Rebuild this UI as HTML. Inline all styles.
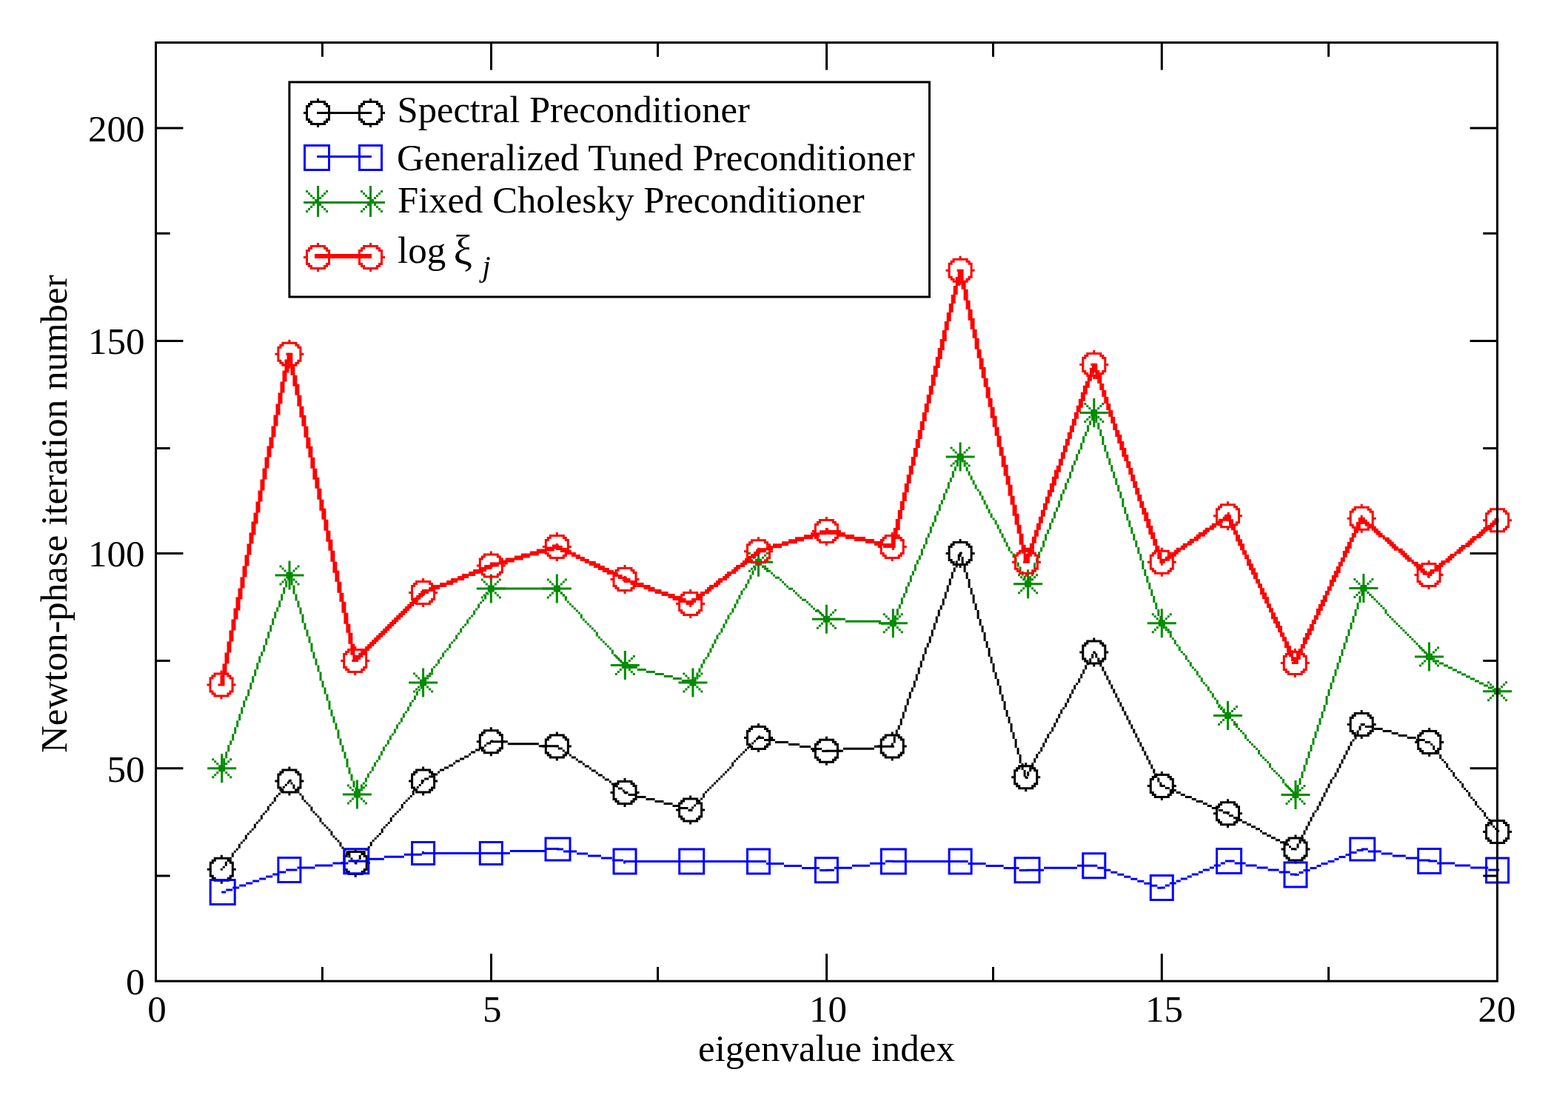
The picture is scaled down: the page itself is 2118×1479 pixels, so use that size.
<!DOCTYPE html><html><head><meta charset="utf-8"><title>Newton-phase iteration number vs eigenvalue index</title><style>html,body{margin:0;padding:0;background:#fff;}svg{display:block;}</style></head><body>
<svg width="2118" height="1479" viewBox="0 0 2118 1479">
<rect width="2118" height="1479" fill="#ffffff"/>
<g font-family="'Liberation Serif','Times New Roman',serif" font-size="51" fill="#000"><text x="212.0" y="1379.5" text-anchor="middle">0</text><text x="664.7" y="1379.5" text-anchor="middle">5</text><text x="1118.4" y="1379.5" text-anchor="middle">10</text><text x="1572.6" y="1379.5" text-anchor="middle">15</text><text x="2022.0" y="1379.5" text-anchor="middle">20</text><text x="195.5" y="1343.0" text-anchor="end">0</text><text x="195.5" y="1055.5" text-anchor="end">50</text><text x="195.5" y="765.4" text-anchor="end">100</text><text x="195.5" y="478.2" text-anchor="end">150</text><text x="195.5" y="190.9" text-anchor="end">200</text><text x="1116.5" y="1432.9" text-anchor="middle">eigenvalue index</text><text transform="translate(90.3,694.2) rotate(-90)" text-anchor="middle">Newton-phase iteration number</text></g>
<path fill="#000000" d="M369.8 1079.7h3v3h-3zM375.8 1070.7h3v3h-3zM384.8 1058.7h3v3h-3zM342.8 1115.7h3v3h-3zM351.8 1103.7h3v3h-3zM357.8 1094.7h3v3h-3zM363.8 1085.7h3v3h-3zM360.8 1091.7h3v3h-3zM366.8 1082.7h3v3h-3zM378.8 1064.7h3v3h-3zM381.8 1061.7h3v3h-3zM348.8 1106.7h3v3h-3zM339.8 1118.7h3v3h-3zM354.8 1097.7h3v3h-3zM372.8 1073.7h3v3h-3zM312.8 1154.7h3v3h-3zM369.8 1076.7h3v3h-3zM321.8 1142.7h3v3h-3zM327.8 1133.7h3v3h-3zM330.8 1130.7h3v3h-3zM336.8 1121.7h3v3h-3zM342.8 1112.7h3v3h-3zM345.8 1109.7h3v3h-3zM351.8 1100.7h3v3h-3zM360.8 1088.7h3v3h-3zM303.8 1166.7h3v3h-3zM315.8 1148.7h3v3h-3zM318.8 1145.7h3v3h-3zM333.8 1124.7h3v3h-3zM309.8 1157.7h3v3h-3zM324.8 1136.7h3v3h-3zM330.8 1127.7h3v3h-3zM306.8 1160.7h3v3h-3zM312.8 1151.7h3v3h-3zM321.8 1139.7h3v3h-3zM390.8 1052.7h3v3h-3zM297.8 1172.7h3v3h-3zM303.8 1163.7h3v3h-3zM300.8 1169.7h3v3h-3zM387.8 1055.7h3v3h-3zM378.8 1067.7h3v3h-3zM461.4 1143.6h3v3h-3zM437.4 1113.6h3v3h-3zM398.4 1065.6h3v3h-3zM458.4 1137.6h3v3h-3zM395.4 1059.6h3v3h-3zM440.4 1116.6h3v3h-3zM416.4 1086.6h3v3h-3zM422.4 1095.6h3v3h-3zM419.4 1089.6h3v3h-3zM446.4 1125.6h3v3h-3zM470.4 1155.6h3v3h-3zM407.4 1077.6h3v3h-3zM464.4 1146.6h3v3h-3zM467.4 1149.6h3v3h-3zM401.4 1068.6h3v3h-3zM443.4 1119.6h3v3h-3zM404.4 1071.6h3v3h-3zM449.4 1128.6h3v3h-3zM425.4 1098.6h3v3h-3zM431.4 1107.6h3v3h-3zM446.4 1122.6h3v3h-3zM473.4 1158.6h3v3h-3zM428.4 1101.6h3v3h-3zM470.4 1152.6h3v3h-3zM410.4 1080.6h3v3h-3zM407.4 1074.6h3v3h-3zM434.4 1110.6h3v3h-3zM452.4 1131.6h3v3h-3zM455.4 1134.6h3v3h-3zM389.4 1053.6h3v3h-3zM431.4 1104.6h3v3h-3zM476.4 1161.6h3v3h-3zM392.4 1056.6h3v3h-3zM458.4 1140.6h3v3h-3zM413.4 1083.6h3v3h-3zM419.4 1092.6h3v3h-3zM395.4 1062.6h3v3h-3zM479.4 1164.6h3v3h-3zM556.7 1071h3v3h-3zM508.7 1128h3v3h-3zM565.7 1059h3v3h-3zM511.7 1125h3v3h-3zM517.7 1116h3v3h-3zM526.7 1104h3v3h-3zM499.7 1140h3v3h-3zM562.7 1062h3v3h-3zM514.7 1119h3v3h-3zM496.7 1143h3v3h-3zM559.7 1065h3v3h-3zM568.7 1053h3v3h-3zM493.7 1146h3v3h-3zM550.7 1077h3v3h-3zM553.7 1074h3v3h-3zM556.7 1068h3v3h-3zM502.7 1134h3v3h-3zM505.7 1131h3v3h-3zM538.7 1092h3v3h-3zM544.7 1083h3v3h-3zM484.7 1158h3v3h-3zM541.7 1089h3v3h-3zM547.7 1080h3v3h-3zM499.7 1137h3v3h-3zM490.7 1149h3v3h-3zM535.7 1095h3v3h-3zM487.7 1152h3v3h-3zM526.7 1107h3v3h-3zM532.7 1098h3v3h-3zM478.7 1164h3v3h-3zM484.7 1155h3v3h-3zM523.7 1110h3v3h-3zM541.7 1086h3v3h-3zM481.7 1161h3v3h-3zM568.7 1056h3v3h-3zM514.7 1122h3v3h-3zM520.7 1113h3v3h-3zM529.7 1101h3v3h-3zM579.1 1047.6h6v3h-6zM600.1 1035.6h6v3h-6zM642.1 1011.6h6v3h-6zM606.1 1032.6h6v3h-6zM657.1 1002.6h6v3h-6zM633.1 1017.6h3v3h-3zM627.1 1020.6h6v3h-6zM648.1 1008.6h6v3h-6zM654.1 1005.6h3v3h-3zM621.1 1023.6h6v3h-6zM585.1 1044.6h6v3h-6zM594.1 1038.6h6v3h-6zM573.1 1050.6h6v3h-6zM615.1 1026.6h6v3h-6zM663.1 999.6h3v3h-3zM636.1 1014.6h6v3h-6zM570.1 1053.6h3v3h-3zM591.1 1041.6h3v3h-3zM612.1 1029.6h3v3h-3zM727.8 1006.3h27v3h-27zM661.8 1000.3h24v3h-24zM685.8 1003.3h42v3h-42zM762.8 1015.5h6v3h-6zM825.8 1057.5h6v3h-6zM807.8 1045.5h6v3h-6zM834.8 1063.5h6v3h-6zM789.8 1033.5h6v3h-6zM816.8 1051.5h6v3h-6zM798.8 1039.5h6v3h-6zM771.8 1021.5h6v3h-6zM831.8 1060.5h3v3h-3zM780.8 1027.5h6v3h-6zM753.8 1009.5h6v3h-6zM840.8 1066.5h3v3h-3zM822.8 1054.5h3v3h-3zM768.8 1018.5h3v3h-3zM795.8 1036.5h3v3h-3zM804.8 1042.5h3v3h-3zM813.8 1048.5h3v3h-3zM759.8 1012.5h3v3h-3zM786.8 1030.5h3v3h-3zM843.8 1069.5h3v3h-3zM750.8 1006.5h3v3h-3zM777.8 1024.5h3v3h-3zM896.5 1084h12v3h-12zM884.5 1081h12v3h-12zM848.5 1072h12v3h-12zM860.5 1075h12v3h-12zM917.5 1090h12v3h-12zM872.5 1078h12v3h-12zM842.5 1069h6v3h-6zM908.5 1087h9v3h-9zM929.5 1093h6v3h-6zM988.1 1029.4h3v3h-3zM958.1 1062.4h3v3h-3zM946.1 1077.4h3v3h-3zM955.1 1065.4h3v3h-3zM1009.1 1008.4h3v3h-3zM979.1 1041.4h3v3h-3zM976.1 1044.4h3v3h-3zM952.1 1068.4h3v3h-3zM949.1 1071.4h3v3h-3zM973.1 1047.4h3v3h-3zM940.1 1083.4h3v3h-3zM943.1 1080.4h3v3h-3zM1003.1 1014.4h3v3h-3zM1006.1 1011.4h3v3h-3zM970.1 1050.4h3v3h-3zM1024.1 993.4h3v3h-3zM937.1 1086.4h3v3h-3zM997.1 1020.4h3v3h-3zM1000.1 1017.4h3v3h-3zM1021.1 996.4h3v3h-3zM967.1 1053.4h3v3h-3zM988.1 1032.4h3v3h-3zM964.1 1056.4h3v3h-3zM1018.1 999.4h3v3h-3zM961.1 1059.4h3v3h-3zM931.1 1092.4h3v3h-3zM985.1 1035.4h3v3h-3zM991.1 1026.4h3v3h-3zM994.1 1023.4h3v3h-3zM934.1 1089.4h3v3h-3zM949.1 1074.4h3v3h-3zM1012.1 1005.4h3v3h-3zM1015.1 1002.4h3v3h-3zM982.1 1038.4h3v3h-3zM1080 1006.9h15v3h-15zM1032 997.9h15v3h-15zM1047 1000.9h18v3h-18zM1065 1003.9h15v3h-15zM1110 1012.9h9v3h-9zM1023 994.9h9v3h-9zM1095 1009.9h15v3h-15zM1114.9 1012.7h24v3h-24zM1138.9 1009.7h42v3h-42zM1180.9 1006.7h27v3h-27zM1260.7 841.5h3v3h-3zM1209.7 985.5h3v3h-3zM1221.7 958.5h3v3h-3zM1242.7 892.5h3v3h-3zM1284.7 778.5h3v3h-3zM1233.7 922.5h3v3h-3zM1260.7 847.5h3v3h-3zM1203.7 1003.5h3v3h-3zM1209.7 991.5h3v3h-3zM1245.7 886.5h3v3h-3zM1281.7 781.5h3v3h-3zM1257.7 850.5h3v3h-3zM1242.7 898.5h3v3h-3zM1227.7 937.5h3v3h-3zM1254.7 862.5h3v3h-3zM1290.7 757.5h3v3h-3zM1203.7 1006.5h3v3h-3zM1239.7 901.5h3v3h-3zM1281.7 787.5h3v3h-3zM1266.7 826.5h3v3h-3zM1215.7 970.5h3v3h-3zM1257.7 856.5h3v3h-3zM1293.7 751.5h3v3h-3zM1263.7 838.5h3v3h-3zM1290.7 763.5h3v3h-3zM1239.7 907.5h3v3h-3zM1275.7 802.5h3v3h-3zM1224.7 946.5h3v3h-3zM1215.7 976.5h3v3h-3zM1251.7 871.5h3v3h-3zM1287.7 766.5h3v3h-3zM1236.7 910.5h3v3h-3zM1221.7 955.5h3v3h-3zM1206.7 994.5h3v3h-3zM1284.7 775.5h3v3h-3zM1233.7 919.5h3v3h-3zM1236.7 916.5h3v3h-3zM1272.7 811.5h3v3h-3zM1245.7 883.5h3v3h-3zM1206.7 1000.5h3v3h-3zM1227.7 934.5h3v3h-3zM1233.7 925.5h3v3h-3zM1269.7 820.5h3v3h-3zM1230.7 931.5h3v3h-3zM1218.7 964.5h3v3h-3zM1245.7 889.5h3v3h-3zM1281.7 784.5h3v3h-3zM1278.7 790.5h3v3h-3zM1293.7 748.5h3v3h-3zM1227.7 940.5h3v3h-3zM1263.7 835.5h3v3h-3zM1212.7 979.5h3v3h-3zM1248.7 874.5h3v3h-3zM1239.7 904.5h3v3h-3zM1275.7 799.5h3v3h-3zM1224.7 943.5h3v3h-3zM1278.7 796.5h3v3h-3zM1293.7 754.5h3v3h-3zM1248.7 880.5h3v3h-3zM1275.7 805.5h3v3h-3zM1224.7 949.5h3v3h-3zM1260.7 844.5h3v3h-3zM1209.7 988.5h3v3h-3zM1287.7 769.5h3v3h-3zM1236.7 913.5h3v3h-3zM1272.7 808.5h3v3h-3zM1242.7 895.5h3v3h-3zM1254.7 859.5h3v3h-3zM1206.7 997.5h3v3h-3zM1296.7 745.5h3v3h-3zM1230.7 928.5h3v3h-3zM1266.7 823.5h3v3h-3zM1272.7 814.5h3v3h-3zM1218.7 961.5h3v3h-3zM1269.7 817.5h3v3h-3zM1257.7 853.5h3v3h-3zM1254.7 865.5h3v3h-3zM1290.7 760.5h3v3h-3zM1263.7 832.5h3v3h-3zM1266.7 829.5h3v3h-3zM1218.7 967.5h3v3h-3zM1215.7 973.5h3v3h-3zM1251.7 868.5h3v3h-3zM1278.7 793.5h3v3h-3zM1221.7 952.5h3v3h-3zM1212.7 982.5h3v3h-3zM1248.7 877.5h3v3h-3zM1284.7 772.5h3v3h-3zM1358.6 958.9h3v3h-3zM1325.6 847.9h3v3h-3zM1346.6 919.9h3v3h-3zM1352.6 937.9h3v3h-3zM1337.6 892.9h3v3h-3zM1367.6 988.9h3v3h-3zM1313.6 805.9h3v3h-3zM1358.6 964.9h3v3h-3zM1334.6 877.9h3v3h-3zM1361.6 967.9h3v3h-3zM1352.6 943.9h3v3h-3zM1382.6 1039.9h3v3h-3zM1340.6 904.9h3v3h-3zM1367.6 994.9h3v3h-3zM1373.6 1012.9h3v3h-3zM1328.6 856.9h3v3h-3zM1361.6 973.9h3v3h-3zM1295.6 745.9h3v3h-3zM1382.6 1045.9h3v3h-3zM1349.6 925.9h3v3h-3zM1376.6 1024.9h3v3h-3zM1370.6 997.9h3v3h-3zM1316.6 814.9h3v3h-3zM1328.6 862.9h3v3h-3zM1304.6 775.9h3v3h-3zM1364.6 976.9h3v3h-3zM1310.6 793.9h3v3h-3zM1331.6 865.9h3v3h-3zM1298.6 754.9h3v3h-3zM1343.6 913.9h3v3h-3zM1349.6 931.9h3v3h-3zM1319.6 826.9h3v3h-3zM1325.6 844.9h3v3h-3zM1370.6 1003.9h3v3h-3zM1346.6 916.9h3v3h-3zM1364.6 982.9h3v3h-3zM1310.6 799.9h3v3h-3zM1340.6 895.9h3v3h-3zM1331.6 871.9h3v3h-3zM1298.6 760.9h3v3h-3zM1319.6 832.9h3v3h-3zM1379.6 1033.9h3v3h-3zM1325.6 850.9h3v3h-3zM1355.6 946.9h3v3h-3zM1346.6 922.9h3v3h-3zM1313.6 811.9h3v3h-3zM1307.6 784.9h3v3h-3zM1334.6 883.9h3v3h-3zM1340.6 901.9h3v3h-3zM1301.6 763.9h3v3h-3zM1367.6 991.9h3v3h-3zM1322.6 835.9h3v3h-3zM1328.6 853.9h3v3h-3zM1355.6 952.9h3v3h-3zM1361.6 970.9h3v3h-3zM1307.6 790.9h3v3h-3zM1382.6 1042.9h3v3h-3zM1301.6 769.9h3v3h-3zM1376.6 1021.9h3v3h-3zM1322.6 841.9h3v3h-3zM1328.6 859.9h3v3h-3zM1304.6 772.9h3v3h-3zM1316.6 820.9h3v3h-3zM1298.6 751.9h3v3h-3zM1343.6 910.9h3v3h-3zM1349.6 928.9h3v3h-3zM1319.6 823.9h3v3h-3zM1376.6 1027.9h3v3h-3zM1370.6 1000.9h3v3h-3zM1337.6 889.9h3v3h-3zM1313.6 802.9h3v3h-3zM1358.6 961.9h3v3h-3zM1304.6 778.9h3v3h-3zM1364.6 979.9h3v3h-3zM1334.6 874.9h3v3h-3zM1352.6 940.9h3v3h-3zM1298.6 757.9h3v3h-3zM1349.6 934.9h3v3h-3zM1319.6 829.9h3v3h-3zM1379.6 1030.9h3v3h-3zM1370.6 1006.9h3v3h-3zM1385.6 1048.9h3v3h-3zM1313.6 808.9h3v3h-3zM1373.6 1009.9h3v3h-3zM1307.6 781.9h3v3h-3zM1334.6 880.9h3v3h-3zM1364.6 985.9h3v3h-3zM1340.6 898.9h3v3h-3zM1379.6 1036.9h3v3h-3zM1355.6 949.9h3v3h-3zM1373.6 1015.9h3v3h-3zM1307.6 787.9h3v3h-3zM1295.6 748.9h3v3h-3zM1301.6 766.9h3v3h-3zM1376.6 1018.9h3v3h-3zM1322.6 838.9h3v3h-3zM1355.6 955.9h3v3h-3zM1316.6 817.9h3v3h-3zM1343.6 907.9h3v3h-3zM1310.6 796.9h3v3h-3zM1331.6 868.9h3v3h-3zM1337.6 886.9h3v3h-3zM1393.2 1033.2h3v3h-3zM1408.2 1003.2h3v3h-3zM1477.2 880.2h3v3h-3zM1411.2 1000.2h3v3h-3zM1432.2 961.2h3v3h-3zM1414.2 994.2h3v3h-3zM1429.2 964.2h3v3h-3zM1450.2 925.2h3v3h-3zM1438.2 952.2h3v3h-3zM1447.2 931.2h3v3h-3zM1453.2 922.2h3v3h-3zM1474.2 883.2h3v3h-3zM1390.2 1036.2h3v3h-3zM1420.2 985.2h3v3h-3zM1435.2 955.2h3v3h-3zM1441.2 946.2h3v3h-3zM1459.2 913.2h3v3h-3zM1456.2 916.2h3v3h-3zM1462.2 907.2h3v3h-3zM1396.2 1027.2h3v3h-3zM1411.2 997.2h3v3h-3zM1393.2 1030.2h3v3h-3zM1399.2 1021.2h3v3h-3zM1414.2 991.2h3v3h-3zM1417.2 988.2h3v3h-3zM1432.2 958.2h3v3h-3zM1423.2 979.2h3v3h-3zM1438.2 949.2h3v3h-3zM1444.2 940.2h3v3h-3zM1465.2 901.2h3v3h-3zM1405.2 1012.2h3v3h-3zM1420.2 982.2h3v3h-3zM1402.2 1015.2h3v3h-3zM1426.2 973.2h3v3h-3zM1441.2 943.2h3v3h-3zM1462.2 904.2h3v3h-3zM1459.2 910.2h3v3h-3zM1471.2 892.2h3v3h-3zM1399.2 1018.2h3v3h-3zM1396.2 1024.2h3v3h-3zM1408.2 1006.2h3v3h-3zM1423.2 976.2h3v3h-3zM1429.2 967.2h3v3h-3zM1447.2 934.2h3v3h-3zM1444.2 937.2h3v3h-3zM1450.2 928.2h3v3h-3zM1465.2 898.2h3v3h-3zM1384.2 1048.2h3v3h-3zM1390.2 1039.2h3v3h-3zM1468.2 895.2h3v3h-3zM1474.2 886.2h3v3h-3zM1387.2 1042.2h3v3h-3zM1387.2 1045.2h3v3h-3zM1405.2 1009.2h3v3h-3zM1426.2 970.2h3v3h-3zM1456.2 919.2h3v3h-3zM1471.2 889.2h3v3h-3zM1494.3 915.4h3v3h-3zM1557.3 1038.4h3v3h-3zM1521.3 969.4h3v3h-3zM1560.3 1044.4h3v3h-3zM1524.3 975.4h3v3h-3zM1530.3 984.4h3v3h-3zM1551.3 1029.4h3v3h-3zM1548.3 1023.4h3v3h-3zM1491.3 909.4h3v3h-3zM1554.3 1032.4h3v3h-3zM1518.3 963.4h3v3h-3zM1503.3 930.4h3v3h-3zM1500.3 924.4h3v3h-3zM1542.3 1011.4h3v3h-3zM1527.3 978.4h3v3h-3zM1545.3 1017.4h3v3h-3zM1494.3 912.4h3v3h-3zM1515.3 957.4h3v3h-3zM1497.3 918.4h3v3h-3zM1524.3 972.4h3v3h-3zM1521.3 966.4h3v3h-3zM1488.3 903.4h3v3h-3zM1485.3 897.4h3v3h-3zM1548.3 1020.4h3v3h-3zM1491.3 906.4h3v3h-3zM1566.3 1059.4h3v3h-3zM1512.3 951.4h3v3h-3zM1551.3 1026.4h3v3h-3zM1539.3 1005.4h3v3h-3zM1482.3 891.4h3v3h-3zM1479.3 885.4h3v3h-3zM1536.3 999.4h3v3h-3zM1518.3 960.4h3v3h-3zM1545.3 1014.4h3v3h-3zM1542.3 1008.4h3v3h-3zM1509.3 945.4h3v3h-3zM1506.3 939.4h3v3h-3zM1563.3 1053.4h3v3h-3zM1533.3 993.4h3v3h-3zM1515.3 954.4h3v3h-3zM1560.3 1047.4h3v3h-3zM1557.3 1041.4h3v3h-3zM1488.3 900.4h3v3h-3zM1485.3 894.4h3v3h-3zM1566.3 1056.4h3v3h-3zM1512.3 948.4h3v3h-3zM1530.3 987.4h3v3h-3zM1476.3 879.4h3v3h-3zM1479.3 882.4h3v3h-3zM1554.3 1035.4h3v3h-3zM1500.3 927.4h3v3h-3zM1539.3 1002.4h3v3h-3zM1482.3 888.4h3v3h-3zM1536.3 996.4h3v3h-3zM1503.3 933.4h3v3h-3zM1509.3 942.4h3v3h-3zM1506.3 936.4h3v3h-3zM1563.3 1050.4h3v3h-3zM1527.3 981.4h3v3h-3zM1533.3 990.4h3v3h-3zM1497.3 921.4h3v3h-3zM1624.8 1084h6v3h-6zM1573.8 1063h6v3h-6zM1636.8 1090h9v3h-9zM1588.8 1069h6v3h-6zM1651.8 1096h9v3h-9zM1600.8 1075h9v3h-9zM1567.8 1060h6v3h-6zM1615.8 1081h9v3h-9zM1579.8 1066h9v3h-9zM1645.8 1093h6v3h-6zM1630.8 1087h6v3h-6zM1609.8 1078h6v3h-6zM1594.8 1072h6v3h-6zM1717 1130.3h6v3h-6zM1696 1118.3h6v3h-6zM1705 1124.3h6v3h-6zM1684 1112.3h6v3h-6zM1741 1142.3h3v3h-3zM1678 1109.3h6v3h-6zM1729 1136.3h6v3h-6zM1702 1121.3h3v3h-3zM1735 1139.3h6v3h-6zM1711 1127.3h6v3h-6zM1744 1145.3h6v3h-6zM1666 1103.3h6v3h-6zM1690 1115.3h6v3h-6zM1723 1133.3h6v3h-6zM1672 1106.3h6v3h-6zM1660 1100.3h6v3h-6zM1657 1097.3h3v3h-3zM1757.5 1130.5h3v3h-3zM1772.5 1100.5h3v3h-3zM1778.5 1091.5h3v3h-3zM1787.5 1070.5h3v3h-3zM1793.5 1061.5h3v3h-3zM1808.5 1031.5h3v3h-3zM1811.5 1028.5h3v3h-3zM1814.5 1022.5h3v3h-3zM1829.5 992.5h3v3h-3zM1832.5 989.5h3v3h-3zM1754.5 1133.5h3v3h-3zM1769.5 1103.5h3v3h-3zM1790.5 1064.5h3v3h-3zM1823.5 1001.5h3v3h-3zM1835.5 983.5h3v3h-3zM1760.5 1124.5h3v3h-3zM1775.5 1094.5h3v3h-3zM1757.5 1127.5h3v3h-3zM1763.5 1118.5h3v3h-3zM1772.5 1097.5h3v3h-3zM1778.5 1088.5h3v3h-3zM1781.5 1085.5h3v3h-3zM1793.5 1058.5h3v3h-3zM1796.5 1055.5h3v3h-3zM1802.5 1046.5h3v3h-3zM1811.5 1025.5h3v3h-3zM1817.5 1016.5h3v3h-3zM1832.5 986.5h3v3h-3zM1814.5 1019.5h3v3h-3zM1838.5 977.5h3v3h-3zM1784.5 1079.5h3v3h-3zM1766.5 1112.5h3v3h-3zM1799.5 1049.5h3v3h-3zM1805.5 1040.5h3v3h-3zM1820.5 1010.5h3v3h-3zM1835.5 980.5h3v3h-3zM1763.5 1115.5h3v3h-3zM1760.5 1121.5h3v3h-3zM1781.5 1082.5h3v3h-3zM1796.5 1052.5h3v3h-3zM1787.5 1073.5h3v3h-3zM1802.5 1043.5h3v3h-3zM1817.5 1013.5h3v3h-3zM1808.5 1034.5h3v3h-3zM1829.5 995.5h3v3h-3zM1748.5 1145.5h3v3h-3zM1754.5 1136.5h3v3h-3zM1751.5 1139.5h3v3h-3zM1751.5 1142.5h3v3h-3zM1766.5 1109.5h3v3h-3zM1769.5 1106.5h3v3h-3zM1784.5 1076.5h3v3h-3zM1790.5 1067.5h3v3h-3zM1805.5 1037.5h3v3h-3zM1820.5 1007.5h3v3h-3zM1823.5 1004.5h3v3h-3zM1826.5 998.5h3v3h-3zM1888.7 991.9h12v3h-12zM1879.7 988.9h9v3h-9zM1843.7 979.9h12v3h-12zM1855.7 982.9h12v3h-12zM1912.7 997.9h12v3h-12zM1867.7 985.9h12v3h-12zM1837.7 976.9h6v3h-6zM1900.7 994.9h12v3h-12zM1924.7 1000.9h6v3h-6zM1983.2 1070h3v3h-3zM1938.2 1013h3v3h-3zM2004.2 1097h3v3h-3zM1965.2 1049h3v3h-3zM1992.2 1085h3v3h-3zM1944.2 1022h3v3h-3zM1989.2 1079h3v3h-3zM2016.2 1115h3v3h-3zM1935.2 1007h3v3h-3zM1995.2 1088h3v3h-3zM1962.2 1043h3v3h-3zM2013.2 1109h3v3h-3zM1968.2 1052h3v3h-3zM1947.2 1025h3v3h-3zM2019.2 1118h3v3h-3zM1974.2 1061h3v3h-3zM1941.2 1016h3v3h-3zM1944.2 1019h3v3h-3zM1971.2 1055h3v3h-3zM1992.2 1082h3v3h-3zM1998.2 1091h3v3h-3zM1953.2 1034h3v3h-3zM2022.2 1121h3v3h-3zM1950.2 1028h3v3h-3zM1977.2 1064h3v3h-3zM1974.2 1058h3v3h-3zM2004.2 1100h3v3h-3zM2001.2 1094h3v3h-3zM1983.2 1073h3v3h-3zM2007.2 1103h3v3h-3zM1929.2 1001h3v3h-3zM1932.2 1004h3v3h-3zM1956.2 1037h3v3h-3zM1953.2 1031h3v3h-3zM1959.2 1040h3v3h-3zM1935.2 1010h3v3h-3zM1980.2 1067h3v3h-3zM1986.2 1076h3v3h-3zM1962.2 1046h3v3h-3zM2013.2 1112h3v3h-3zM2010.2 1106h3v3h-3z"/>
<path fill="#000000" d="M288.8 1157.7h21v3h-21zM282.8 1163.7h6v3h-6zM309.8 1163.7h6v3h-6zM285.8 1184.7h6v3h-6zM306.8 1184.7h6v3h-6zM282.8 1181.7h6v3h-6zM309.8 1181.7h6v3h-6zM279.8 1172.7h6v3h-6zM312.8 1172.7h6v3h-6zM282.8 1166.7h3v3h-3zM312.8 1166.7h3v3h-3zM282.8 1169.7h3v3h-3zM312.8 1169.7h3v3h-3zM282.8 1175.7h3v3h-3zM312.8 1175.7h3v3h-3zM288.8 1187.7h21v3h-21zM285.8 1160.7h6v3h-6zM306.8 1160.7h6v3h-6zM282.8 1178.7h3v3h-3zM312.8 1178.7h3v3h-3zM297.8 1154.7h3v3h-3zM297.8 1190.7h3v3h-3zM380.4 1038.6h21v3h-21zM374.4 1044.6h6v3h-6zM401.4 1044.6h6v3h-6zM377.4 1065.6h6v3h-6zM398.4 1065.6h6v3h-6zM374.4 1062.6h6v3h-6zM401.4 1062.6h6v3h-6zM371.4 1053.6h6v3h-6zM404.4 1053.6h6v3h-6zM374.4 1047.6h3v3h-3zM404.4 1047.6h3v3h-3zM374.4 1050.6h3v3h-3zM404.4 1050.6h3v3h-3zM374.4 1056.6h3v3h-3zM404.4 1056.6h3v3h-3zM380.4 1068.6h21v3h-21zM377.4 1041.6h6v3h-6zM398.4 1041.6h6v3h-6zM374.4 1059.6h3v3h-3zM404.4 1059.6h3v3h-3zM389.4 1035.6h3v3h-3zM389.4 1071.6h3v3h-3zM469.7 1149h21v3h-21zM463.7 1155h6v3h-6zM490.7 1155h6v3h-6zM466.7 1176h6v3h-6zM487.7 1176h6v3h-6zM463.7 1173h6v3h-6zM490.7 1173h6v3h-6zM460.7 1164h6v3h-6zM493.7 1164h6v3h-6zM463.7 1158h3v3h-3zM493.7 1158h3v3h-3zM463.7 1161h3v3h-3zM493.7 1161h3v3h-3zM463.7 1167h3v3h-3zM493.7 1167h3v3h-3zM469.7 1179h21v3h-21zM466.7 1152h6v3h-6zM487.7 1152h6v3h-6zM463.7 1170h3v3h-3zM493.7 1170h3v3h-3zM478.7 1146h3v3h-3zM478.7 1182h3v3h-3zM561.1 1038.6h21v3h-21zM555.1 1044.6h6v3h-6zM582.1 1044.6h6v3h-6zM558.1 1065.6h6v3h-6zM579.1 1065.6h6v3h-6zM555.1 1062.6h6v3h-6zM582.1 1062.6h6v3h-6zM552.1 1053.6h6v3h-6zM585.1 1053.6h6v3h-6zM555.1 1047.6h3v3h-3zM585.1 1047.6h3v3h-3zM555.1 1050.6h3v3h-3zM585.1 1050.6h3v3h-3zM555.1 1056.6h3v3h-3zM585.1 1056.6h3v3h-3zM561.1 1068.6h21v3h-21zM558.1 1041.6h6v3h-6zM579.1 1041.6h6v3h-6zM555.1 1059.6h3v3h-3zM585.1 1059.6h3v3h-3zM570.1 1035.6h3v3h-3zM570.1 1071.6h3v3h-3zM652.8 985.3h21v3h-21zM646.8 991.3h6v3h-6zM673.8 991.3h6v3h-6zM649.8 1012.3h6v3h-6zM670.8 1012.3h6v3h-6zM646.8 1009.3h6v3h-6zM673.8 1009.3h6v3h-6zM643.8 1000.3h6v3h-6zM676.8 1000.3h6v3h-6zM646.8 994.3h3v3h-3zM676.8 994.3h3v3h-3zM646.8 997.3h3v3h-3zM676.8 997.3h3v3h-3zM646.8 1003.3h3v3h-3zM676.8 1003.3h3v3h-3zM652.8 1015.3h21v3h-21zM649.8 988.3h6v3h-6zM670.8 988.3h6v3h-6zM646.8 1006.3h3v3h-3zM676.8 1006.3h3v3h-3zM661.8 982.3h3v3h-3zM661.8 1018.3h3v3h-3zM741.8 991.5h21v3h-21zM735.8 997.5h6v3h-6zM762.8 997.5h6v3h-6zM738.8 1018.5h6v3h-6zM759.8 1018.5h6v3h-6zM735.8 1015.5h6v3h-6zM762.8 1015.5h6v3h-6zM732.8 1006.5h6v3h-6zM765.8 1006.5h6v3h-6zM735.8 1000.5h3v3h-3zM765.8 1000.5h3v3h-3zM735.8 1003.5h3v3h-3zM765.8 1003.5h3v3h-3zM735.8 1009.5h3v3h-3zM765.8 1009.5h3v3h-3zM741.8 1021.5h21v3h-21zM738.8 994.5h6v3h-6zM759.8 994.5h6v3h-6zM735.8 1012.5h3v3h-3zM765.8 1012.5h3v3h-3zM750.8 988.5h3v3h-3zM750.8 1024.5h3v3h-3zM833.5 1054h21v3h-21zM827.5 1060h6v3h-6zM854.5 1060h6v3h-6zM830.5 1081h6v3h-6zM851.5 1081h6v3h-6zM827.5 1078h6v3h-6zM854.5 1078h6v3h-6zM824.5 1069h6v3h-6zM857.5 1069h6v3h-6zM827.5 1063h3v3h-3zM857.5 1063h3v3h-3zM827.5 1066h3v3h-3zM857.5 1066h3v3h-3zM827.5 1072h3v3h-3zM857.5 1072h3v3h-3zM833.5 1084h21v3h-21zM830.5 1057h6v3h-6zM851.5 1057h6v3h-6zM827.5 1075h3v3h-3zM857.5 1075h3v3h-3zM842.5 1051h3v3h-3zM842.5 1087h3v3h-3zM922.1 1077.4h21v3h-21zM916.1 1083.4h6v3h-6zM943.1 1083.4h6v3h-6zM919.1 1104.4h6v3h-6zM940.1 1104.4h6v3h-6zM916.1 1101.4h6v3h-6zM943.1 1101.4h6v3h-6zM913.1 1092.4h6v3h-6zM946.1 1092.4h6v3h-6zM916.1 1086.4h3v3h-3zM946.1 1086.4h3v3h-3zM916.1 1089.4h3v3h-3zM946.1 1089.4h3v3h-3zM916.1 1095.4h3v3h-3zM946.1 1095.4h3v3h-3zM922.1 1107.4h21v3h-21zM919.1 1080.4h6v3h-6zM940.1 1080.4h6v3h-6zM916.1 1098.4h3v3h-3zM946.1 1098.4h3v3h-3zM931.1 1074.4h3v3h-3zM931.1 1110.4h3v3h-3zM1014 979.9h21v3h-21zM1008 985.9h6v3h-6zM1035 985.9h6v3h-6zM1011 1006.9h6v3h-6zM1032 1006.9h6v3h-6zM1008 1003.9h6v3h-6zM1035 1003.9h6v3h-6zM1005 994.9h6v3h-6zM1038 994.9h6v3h-6zM1008 988.9h3v3h-3zM1038 988.9h3v3h-3zM1008 991.9h3v3h-3zM1038 991.9h3v3h-3zM1008 997.9h3v3h-3zM1038 997.9h3v3h-3zM1014 1009.9h21v3h-21zM1011 982.9h6v3h-6zM1032 982.9h6v3h-6zM1008 1000.9h3v3h-3zM1038 1000.9h3v3h-3zM1023 976.9h3v3h-3zM1023 1012.9h3v3h-3zM1105.9 997.7h21v3h-21zM1099.9 1003.7h6v3h-6zM1126.9 1003.7h6v3h-6zM1102.9 1024.7h6v3h-6zM1123.9 1024.7h6v3h-6zM1099.9 1021.7h6v3h-6zM1126.9 1021.7h6v3h-6zM1096.9 1012.7h6v3h-6zM1129.9 1012.7h6v3h-6zM1099.9 1006.7h3v3h-3zM1129.9 1006.7h3v3h-3zM1099.9 1009.7h3v3h-3zM1129.9 1009.7h3v3h-3zM1099.9 1015.7h3v3h-3zM1129.9 1015.7h3v3h-3zM1105.9 1027.7h21v3h-21zM1102.9 1000.7h6v3h-6zM1123.9 1000.7h6v3h-6zM1099.9 1018.7h3v3h-3zM1129.9 1018.7h3v3h-3zM1114.9 994.7h3v3h-3zM1114.9 1030.7h3v3h-3zM1194.7 991.5h21v3h-21zM1188.7 997.5h6v3h-6zM1215.7 997.5h6v3h-6zM1191.7 1018.5h6v3h-6zM1212.7 1018.5h6v3h-6zM1188.7 1015.5h6v3h-6zM1215.7 1015.5h6v3h-6zM1185.7 1006.5h6v3h-6zM1218.7 1006.5h6v3h-6zM1188.7 1000.5h3v3h-3zM1218.7 1000.5h3v3h-3zM1188.7 1003.5h3v3h-3zM1218.7 1003.5h3v3h-3zM1188.7 1009.5h3v3h-3zM1218.7 1009.5h3v3h-3zM1194.7 1021.5h21v3h-21zM1191.7 994.5h6v3h-6zM1212.7 994.5h6v3h-6zM1188.7 1012.5h3v3h-3zM1218.7 1012.5h3v3h-3zM1203.7 988.5h3v3h-3zM1203.7 1024.5h3v3h-3zM1286.6 730.9h21v3h-21zM1280.6 736.9h6v3h-6zM1307.6 736.9h6v3h-6zM1283.6 757.9h6v3h-6zM1304.6 757.9h6v3h-6zM1280.6 754.9h6v3h-6zM1307.6 754.9h6v3h-6zM1277.6 745.9h6v3h-6zM1310.6 745.9h6v3h-6zM1280.6 739.9h3v3h-3zM1310.6 739.9h3v3h-3zM1280.6 742.9h3v3h-3zM1310.6 742.9h3v3h-3zM1280.6 748.9h3v3h-3zM1310.6 748.9h3v3h-3zM1286.6 760.9h21v3h-21zM1283.6 733.9h6v3h-6zM1304.6 733.9h6v3h-6zM1280.6 751.9h3v3h-3zM1310.6 751.9h3v3h-3zM1295.6 727.9h3v3h-3zM1295.6 763.9h3v3h-3zM1375.2 1033.2h21v3h-21zM1369.2 1039.2h6v3h-6zM1396.2 1039.2h6v3h-6zM1372.2 1060.2h6v3h-6zM1393.2 1060.2h6v3h-6zM1369.2 1057.2h6v3h-6zM1396.2 1057.2h6v3h-6zM1366.2 1048.2h6v3h-6zM1399.2 1048.2h6v3h-6zM1369.2 1042.2h3v3h-3zM1399.2 1042.2h3v3h-3zM1369.2 1045.2h3v3h-3zM1399.2 1045.2h3v3h-3zM1369.2 1051.2h3v3h-3zM1399.2 1051.2h3v3h-3zM1375.2 1063.2h21v3h-21zM1372.2 1036.2h6v3h-6zM1393.2 1036.2h6v3h-6zM1369.2 1054.2h3v3h-3zM1399.2 1054.2h3v3h-3zM1384.2 1030.2h3v3h-3zM1384.2 1066.2h3v3h-3zM1467.3 864.4h21v3h-21zM1461.3 870.4h6v3h-6zM1488.3 870.4h6v3h-6zM1464.3 891.4h6v3h-6zM1485.3 891.4h6v3h-6zM1461.3 888.4h6v3h-6zM1488.3 888.4h6v3h-6zM1458.3 879.4h6v3h-6zM1491.3 879.4h6v3h-6zM1461.3 873.4h3v3h-3zM1491.3 873.4h3v3h-3zM1461.3 876.4h3v3h-3zM1491.3 876.4h3v3h-3zM1461.3 882.4h3v3h-3zM1491.3 882.4h3v3h-3zM1467.3 894.4h21v3h-21zM1464.3 867.4h6v3h-6zM1485.3 867.4h6v3h-6zM1461.3 885.4h3v3h-3zM1491.3 885.4h3v3h-3zM1476.3 861.4h3v3h-3zM1476.3 897.4h3v3h-3zM1558.8 1045h21v3h-21zM1552.8 1051h6v3h-6zM1579.8 1051h6v3h-6zM1555.8 1072h6v3h-6zM1576.8 1072h6v3h-6zM1552.8 1069h6v3h-6zM1579.8 1069h6v3h-6zM1549.8 1060h6v3h-6zM1582.8 1060h6v3h-6zM1552.8 1054h3v3h-3zM1582.8 1054h3v3h-3zM1552.8 1057h3v3h-3zM1582.8 1057h3v3h-3zM1552.8 1063h3v3h-3zM1582.8 1063h3v3h-3zM1558.8 1075h21v3h-21zM1555.8 1048h6v3h-6zM1576.8 1048h6v3h-6zM1552.8 1066h3v3h-3zM1582.8 1066h3v3h-3zM1567.8 1042h3v3h-3zM1567.8 1078h3v3h-3zM1648 1082.3h21v3h-21zM1642 1088.3h6v3h-6zM1669 1088.3h6v3h-6zM1645 1109.3h6v3h-6zM1666 1109.3h6v3h-6zM1642 1106.3h6v3h-6zM1669 1106.3h6v3h-6zM1639 1097.3h6v3h-6zM1672 1097.3h6v3h-6zM1642 1091.3h3v3h-3zM1672 1091.3h3v3h-3zM1642 1094.3h3v3h-3zM1672 1094.3h3v3h-3zM1642 1100.3h3v3h-3zM1672 1100.3h3v3h-3zM1648 1112.3h21v3h-21zM1645 1085.3h6v3h-6zM1666 1085.3h6v3h-6zM1642 1103.3h3v3h-3zM1672 1103.3h3v3h-3zM1657 1079.3h3v3h-3zM1657 1115.3h3v3h-3zM1739.5 1130.5h21v3h-21zM1733.5 1136.5h6v3h-6zM1760.5 1136.5h6v3h-6zM1736.5 1157.5h6v3h-6zM1757.5 1157.5h6v3h-6zM1733.5 1154.5h6v3h-6zM1760.5 1154.5h6v3h-6zM1730.5 1145.5h6v3h-6zM1763.5 1145.5h6v3h-6zM1733.5 1139.5h3v3h-3zM1763.5 1139.5h3v3h-3zM1733.5 1142.5h3v3h-3zM1763.5 1142.5h3v3h-3zM1733.5 1148.5h3v3h-3zM1763.5 1148.5h3v3h-3zM1739.5 1160.5h21v3h-21zM1736.5 1133.5h6v3h-6zM1757.5 1133.5h6v3h-6zM1733.5 1151.5h3v3h-3zM1763.5 1151.5h3v3h-3zM1748.5 1127.5h3v3h-3zM1748.5 1163.5h3v3h-3zM1828.7 961.9h21v3h-21zM1822.7 967.9h6v3h-6zM1849.7 967.9h6v3h-6zM1825.7 988.9h6v3h-6zM1846.7 988.9h6v3h-6zM1822.7 985.9h6v3h-6zM1849.7 985.9h6v3h-6zM1819.7 976.9h6v3h-6zM1852.7 976.9h6v3h-6zM1822.7 970.9h3v3h-3zM1852.7 970.9h3v3h-3zM1822.7 973.9h3v3h-3zM1852.7 973.9h3v3h-3zM1822.7 979.9h3v3h-3zM1852.7 979.9h3v3h-3zM1828.7 991.9h21v3h-21zM1825.7 964.9h6v3h-6zM1846.7 964.9h6v3h-6zM1822.7 982.9h3v3h-3zM1852.7 982.9h3v3h-3zM1837.7 958.9h3v3h-3zM1837.7 994.9h3v3h-3zM1920.2 986h21v3h-21zM1914.2 992h6v3h-6zM1941.2 992h6v3h-6zM1917.2 1013h6v3h-6zM1938.2 1013h6v3h-6zM1914.2 1010h6v3h-6zM1941.2 1010h6v3h-6zM1911.2 1001h6v3h-6zM1944.2 1001h6v3h-6zM1914.2 995h3v3h-3zM1944.2 995h3v3h-3zM1914.2 998h3v3h-3zM1944.2 998h3v3h-3zM1914.2 1004h3v3h-3zM1944.2 1004h3v3h-3zM1920.2 1016h21v3h-21zM1917.2 989h6v3h-6zM1938.2 989h6v3h-6zM1914.2 1007h3v3h-3zM1944.2 1007h3v3h-3zM1929.2 983h3v3h-3zM1929.2 1019h3v3h-3zM2012.1 1107.1h21v3h-21zM2006.1 1113.1h6v3h-6zM2033.1 1113.1h6v3h-6zM2009.1 1134.1h6v3h-6zM2030.1 1134.1h6v3h-6zM2006.1 1131.1h6v3h-6zM2033.1 1131.1h6v3h-6zM2003.1 1122.1h6v3h-6zM2036.1 1122.1h6v3h-6zM2006.1 1116.1h3v3h-3zM2036.1 1116.1h3v3h-3zM2006.1 1119.1h3v3h-3zM2036.1 1119.1h3v3h-3zM2006.1 1125.1h3v3h-3zM2036.1 1125.1h3v3h-3zM2012.1 1137.1h21v3h-21zM2009.1 1110.1h6v3h-6zM2030.1 1110.1h6v3h-6zM2006.1 1128.1h3v3h-3zM2036.1 1128.1h3v3h-3zM2021.1 1104.1h3v3h-3zM2021.1 1140.1h3v3h-3z"/>
<path fill="#0000ff" d="M341.2 1188.6h9v3h-9zM305.2 1200.6h9v3h-9zM377.2 1176.6h9v3h-9zM350.2 1185.6h9v3h-9zM314.2 1197.6h9v3h-9zM323.2 1194.6h9v3h-9zM332.2 1191.6h9v3h-9zM368.2 1179.6h9v3h-9zM299.2 1203.6h6v3h-6zM386.2 1173.6h6v3h-6zM359.2 1182.6h9v3h-9zM425.4 1167.6h24v3h-24zM401.4 1170.6h24v3h-24zM389.4 1173.6h12v3h-12zM449.4 1164.6h21v3h-21zM470.4 1161.6h12v3h-12zM479.8 1161.8h15v3h-15zM518.8 1155.8h27v3h-27zM545.8 1152.8h24v3h-24zM494.8 1158.8h24v3h-24zM569.8 1149.8h3v3h-3zM570.1 1151.1h96v3h-96zM661.8 1151.1h27v3h-27zM688.8 1148.1h48v3h-48zM736.8 1145.1h18v3h-18zM812 1157.5h15v3h-15zM761 1148.5h18v3h-18zM779 1151.5h15v3h-15zM794 1154.5h18v3h-18zM842 1163.5h3v3h-3zM752 1145.5h9v3h-9zM827 1160.5h15v3h-15zM842.5 1162h93v3h-93zM932.7 1162h93v3h-93zM1035 1165h24v3h-24zM1059 1168h24v3h-24zM1023 1162h12v3h-12zM1107 1174h12v3h-12zM1083 1171h24v3h-24zM1150.9 1167.8h24v3h-24zM1126.9 1170.8h24v3h-24zM1114.9 1173.8h12v3h-12zM1174.9 1164.8h21v3h-21zM1195.9 1161.8h12v3h-12zM1205.3 1162h93v3h-93zM1376.6 1174h12v3h-12zM1307.6 1165h24v3h-24zM1331.6 1168h24v3h-24zM1295.6 1162h12v3h-12zM1355.6 1171h21v3h-21zM1386 1173.8h24v3h-24zM1410 1170.8h45v3h-45zM1455 1167.8h24v3h-24zM1509.3 1179.8h9v3h-9zM1482.3 1170.8h9v3h-9zM1554.3 1194.8h9v3h-9zM1527.3 1185.8h9v3h-9zM1500.3 1176.8h9v3h-9zM1476.3 1167.8h6v3h-6zM1545.3 1191.8h9v3h-9zM1518.3 1182.8h9v3h-9zM1491.3 1173.8h9v3h-9zM1563.3 1197.8h6v3h-6zM1536.3 1188.8h9v3h-9zM1573.8 1194.6h6v3h-6zM1648.8 1164.6h6v3h-6zM1654.8 1161.6h6v3h-6zM1579.8 1191.6h9v3h-9zM1588.8 1188.6h6v3h-6zM1594.8 1185.6h9v3h-9zM1639.8 1167.6h9v3h-9zM1567.8 1197.6h6v3h-6zM1624.8 1173.6h9v3h-9zM1633.8 1170.6h6v3h-6zM1609.8 1179.6h9v3h-9zM1618.8 1176.6h6v3h-6zM1603.8 1182.6h6v3h-6zM1667.6 1164.6h15v3h-15zM1682.6 1167.6h15v3h-15zM1697.6 1170.6h15v3h-15zM1742.6 1179.6h9v3h-9zM1658.6 1161.6h9v3h-9zM1727.6 1176.6h15v3h-15zM1712.6 1173.6h15v3h-15zM1784.5 1164.9h9v3h-9zM1754.5 1176.9h6v3h-6zM1793.5 1161.9h9v3h-9zM1760.5 1173.9h9v3h-9zM1769.5 1170.9h9v3h-9zM1778.5 1167.9h6v3h-6zM1823.5 1149.9h9v3h-9zM1748.5 1179.9h6v3h-6zM1832.5 1146.9h9v3h-9zM1808.5 1155.9h9v3h-9zM1817.5 1152.9h6v3h-6zM1802.5 1158.9h6v3h-6zM1898.8 1157.5h18v3h-18zM1847.8 1148.5h18v3h-18zM1865.8 1151.5h15v3h-15zM1880.8 1154.5h18v3h-18zM1838.8 1145.5h9v3h-9zM1916.8 1160.5h15v3h-15zM2010.2 1173.6h15v3h-15zM1941.2 1164.6h24v3h-24zM1986.2 1170.6h24v3h-24zM1965.2 1167.6h21v3h-21zM1929.2 1161.6h12v3h-12z"/>
<path fill="#0000ff" d="M282.7 1187.1h36v3h-36zM282.7 1220.1h36v3h-36zM282.7 1190.1h3v30h-3zM315.7 1190.1h3v30h-3zM374.4 1157.1h33v3h-33zM374.4 1190.1h33v3h-33zM374.4 1160.1h3v30h-3zM404.4 1160.1h3v30h-3zM463.3 1145.3h36v3h-36zM463.3 1178.3h36v3h-36zM463.3 1148.3h3v30h-3zM496.3 1148.3h3v30h-3zM555.1 1136.1h33v3h-33zM555.1 1166.1h33v3h-33zM555.1 1139.1h3v27h-3zM585.1 1139.1h3v27h-3zM646.8 1136.1h33v3h-33zM646.8 1166.1h33v3h-33zM646.8 1139.1h3v27h-3zM676.8 1139.1h3v27h-3zM735.5 1130.5h36v3h-36zM735.5 1160.5h36v3h-36zM735.5 1133.5h3v27h-3zM768.5 1133.5h3v27h-3zM827.5 1145.5h33v3h-33zM827.5 1178.5h33v3h-33zM827.5 1148.5h3v30h-3zM857.5 1148.5h3v30h-3zM916.2 1145.5h36v3h-36zM916.2 1178.5h36v3h-36zM916.2 1148.5h3v30h-3zM949.2 1148.5h3v30h-3zM1008 1145.5h33v3h-33zM1008 1178.5h33v3h-33zM1008 1148.5h3v30h-3zM1038 1148.5h3v30h-3zM1099.9 1157.3h33v3h-33zM1099.9 1190.3h33v3h-33zM1099.9 1160.3h3v30h-3zM1129.9 1160.3h3v30h-3zM1188.8 1145.5h36v3h-36zM1188.8 1178.5h36v3h-36zM1188.8 1148.5h3v30h-3zM1221.8 1148.5h3v30h-3zM1280.6 1145.5h33v3h-33zM1280.6 1178.5h33v3h-33zM1280.6 1148.5h3v30h-3zM1310.6 1148.5h3v30h-3zM1369.5 1157.3h36v3h-36zM1369.5 1190.3h36v3h-36zM1369.5 1160.3h3v30h-3zM1402.5 1160.3h3v30h-3zM1461.3 1151.3h33v3h-33zM1461.3 1184.3h33v3h-33zM1461.3 1154.3h3v30h-3zM1491.3 1154.3h3v30h-3zM1552.8 1181.1h33v3h-33zM1552.8 1214.1h33v3h-33zM1552.8 1184.1h3v30h-3zM1582.8 1184.1h3v30h-3zM1642.1 1145.1h36v3h-36zM1642.1 1178.1h36v3h-36zM1642.1 1148.1h3v30h-3zM1675.1 1148.1h3v30h-3zM1733.5 1163.4h33v3h-33zM1733.5 1196.4h33v3h-33zM1733.5 1166.4h3v30h-3zM1763.5 1166.4h3v30h-3zM1822.3 1130.5h36v3h-36zM1822.3 1160.5h36v3h-36zM1822.3 1133.5h3v27h-3zM1855.3 1133.5h3v27h-3zM1914.2 1145.1h33v3h-33zM1914.2 1178.1h33v3h-33zM1914.2 1148.1h3v30h-3zM1944.2 1148.1h3v30h-3zM2006.1 1157.4h33v3h-33zM2006.1 1190.4h33v3h-33zM2006.1 1160.4h3v30h-3zM2036.1 1160.4h3v30h-3z"/>
<path fill="#008b00" d="M328.2 946.2h3v3h-3zM355.2 871.2h3v3h-3zM304.2 1015.2h3v3h-3zM316.2 988.2h3v3h-3zM367.2 835.2h3v3h-3zM337.2 922.2h3v3h-3zM379.2 808.2h3v3h-3zM328.2 952.2h3v3h-3zM349.2 886.2h3v3h-3zM355.2 877.2h3v3h-3zM298.2 1033.2h3v3h-3zM304.2 1021.2h3v3h-3zM340.2 916.2h3v3h-3zM376.2 811.2h3v3h-3zM352.2 880.2h3v3h-3zM337.2 928.2h3v3h-3zM388.2 775.2h3v3h-3zM322.2 967.2h3v3h-3zM349.2 892.2h3v3h-3zM385.2 787.2h3v3h-3zM298.2 1036.2h3v3h-3zM334.2 931.2h3v3h-3zM370.2 826.2h3v3h-3zM376.2 817.2h3v3h-3zM361.2 856.2h3v3h-3zM310.2 1000.2h3v3h-3zM346.2 895.2h3v3h-3zM388.2 781.2h3v3h-3zM358.2 868.2h3v3h-3zM334.2 937.2h3v3h-3zM370.2 832.2h3v3h-3zM319.2 976.2h3v3h-3zM346.2 901.2h3v3h-3zM382.2 796.2h3v3h-3zM331.2 940.2h3v3h-3zM316.2 985.2h3v3h-3zM301.2 1024.2h3v3h-3zM379.2 805.2h3v3h-3zM328.2 949.2h3v3h-3zM325.2 955.2h3v3h-3zM364.2 844.2h3v3h-3zM367.2 841.2h3v3h-3zM340.2 913.2h3v3h-3zM301.2 1030.2h3v3h-3zM322.2 964.2h3v3h-3zM364.2 850.2h3v3h-3zM325.2 961.2h3v3h-3zM313.2 994.2h3v3h-3zM385.2 784.2h3v3h-3zM340.2 919.2h3v3h-3zM376.2 814.2h3v3h-3zM373.2 820.2h3v3h-3zM388.2 778.2h3v3h-3zM322.2 970.2h3v3h-3zM358.2 865.2h3v3h-3zM307.2 1009.2h3v3h-3zM343.2 904.2h3v3h-3zM334.2 934.2h3v3h-3zM370.2 829.2h3v3h-3zM319.2 973.2h3v3h-3zM382.2 793.2h3v3h-3zM343.2 910.2h3v3h-3zM319.2 979.2h3v3h-3zM355.2 874.2h3v3h-3zM304.2 1018.2h3v3h-3zM382.2 799.2h3v3h-3zM331.2 943.2h3v3h-3zM367.2 838.2h3v3h-3zM337.2 925.2h3v3h-3zM349.2 889.2h3v3h-3zM301.2 1027.2h3v3h-3zM325.2 958.2h3v3h-3zM361.2 853.2h3v3h-3zM313.2 991.2h3v3h-3zM364.2 847.2h3v3h-3zM352.2 883.2h3v3h-3zM385.2 790.2h3v3h-3zM358.2 862.2h3v3h-3zM307.2 1006.2h3v3h-3zM313.2 997.2h3v3h-3zM310.2 1003.2h3v3h-3zM346.2 898.2h3v3h-3zM361.2 859.2h3v3h-3zM373.2 823.2h3v3h-3zM316.2 982.2h3v3h-3zM307.2 1012.2h3v3h-3zM343.2 907.2h3v3h-3zM379.2 802.2h3v3h-3zM407.5 829.5h3v3h-3zM419.5 877.5h3v3h-3zM467.5 1030.5h3v3h-3zM428.5 901.5h3v3h-3zM407.5 835.5h3v3h-3zM416.5 859.5h3v3h-3zM443.5 949.5h3v3h-3zM464.5 1021.5h3v3h-3zM422.5 886.5h3v3h-3zM389.5 775.5h3v3h-3zM425.5 889.5h3v3h-3zM431.5 907.5h3v3h-3zM443.5 955.5h3v3h-3zM413.5 850.5h3v3h-3zM452.5 979.5h3v3h-3zM419.5 868.5h3v3h-3zM479.5 1069.5h3v3h-3zM410.5 844.5h3v3h-3zM440.5 940.5h3v3h-3zM398.5 805.5h3v3h-3zM446.5 958.5h3v3h-3zM476.5 1054.5h3v3h-3zM404.5 823.5h3v3h-3zM434.5 919.5h3v3h-3zM425.5 895.5h3v3h-3zM392.5 784.5h3v3h-3zM413.5 856.5h3v3h-3zM461.5 1009.5h3v3h-3zM419.5 874.5h3v3h-3zM467.5 1027.5h3v3h-3zM449.5 970.5h3v3h-3zM455.5 988.5h3v3h-3zM446.5 964.5h3v3h-3zM476.5 1060.5h3v3h-3zM434.5 925.5h3v3h-3zM470.5 1039.5h3v3h-3zM455.5 994.5h3v3h-3zM401.5 814.5h3v3h-3zM437.5 928.5h3v3h-3zM395.5 793.5h3v3h-3zM443.5 946.5h3v3h-3zM416.5 865.5h3v3h-3zM464.5 1018.5h3v3h-3zM422.5 883.5h3v3h-3zM458.5 997.5h3v3h-3zM437.5 934.5h3v3h-3zM395.5 799.5h3v3h-3zM443.5 952.5h3v3h-3zM473.5 1048.5h3v3h-3zM431.5 913.5h3v3h-3zM479.5 1066.5h3v3h-3zM440.5 937.5h3v3h-3zM398.5 802.5h3v3h-3zM458.5 1003.5h3v3h-3zM428.5 898.5h3v3h-3zM392.5 781.5h3v3h-3zM413.5 853.5h3v3h-3zM419.5 871.5h3v3h-3zM479.5 1072.5h3v3h-3zM449.5 967.5h3v3h-3zM440.5 943.5h3v3h-3zM407.5 832.5h3v3h-3zM455.5 985.5h3v3h-3zM467.5 1033.5h3v3h-3zM398.5 808.5h3v3h-3zM428.5 904.5h3v3h-3zM476.5 1057.5h3v3h-3zM434.5 922.5h3v3h-3zM392.5 787.5h3v3h-3zM470.5 1036.5h3v3h-3zM449.5 973.5h3v3h-3zM407.5 838.5h3v3h-3zM455.5 991.5h3v3h-3zM401.5 811.5h3v3h-3zM395.5 790.5h3v3h-3zM470.5 1042.5h3v3h-3zM416.5 862.5h3v3h-3zM464.5 1015.5h3v3h-3zM422.5 880.5h3v3h-3zM452.5 976.5h3v3h-3zM410.5 841.5h3v3h-3zM401.5 817.5h3v3h-3zM389.5 778.5h3v3h-3zM404.5 820.5h3v3h-3zM437.5 931.5h3v3h-3zM395.5 796.5h3v3h-3zM425.5 892.5h3v3h-3zM473.5 1045.5h3v3h-3zM431.5 910.5h3v3h-3zM479.5 1063.5h3v3h-3zM461.5 1006.5h3v3h-3zM452.5 982.5h3v3h-3zM467.5 1024.5h3v3h-3zM410.5 847.5h3v3h-3zM458.5 1000.5h3v3h-3zM446.5 961.5h3v3h-3zM404.5 826.5h3v3h-3zM473.5 1051.5h3v3h-3zM431.5 916.5h3v3h-3zM461.5 1012.5h3v3h-3zM489.9 1056.5h3v3h-3zM495.9 1047.5h3v3h-3zM492.9 1053.5h3v3h-3zM513.9 1014.5h3v3h-3zM519.9 1005.5h3v3h-3zM543.9 963.5h3v3h-3zM525.9 996.5h3v3h-3zM549.9 954.5h3v3h-3zM561.9 936.5h3v3h-3zM486.9 1059.5h3v3h-3zM498.9 1041.5h3v3h-3zM501.9 1038.5h3v3h-3zM516.9 1008.5h3v3h-3zM522.9 999.5h3v3h-3zM531.9 987.5h3v3h-3zM552.9 948.5h3v3h-3zM558.9 939.5h3v3h-3zM555.9 945.5h3v3h-3zM567.9 927.5h3v3h-3zM492.9 1050.5h3v3h-3zM495.9 1044.5h3v3h-3zM504.9 1032.5h3v3h-3zM510.9 1023.5h3v3h-3zM525.9 993.5h3v3h-3zM528.9 990.5h3v3h-3zM534.9 981.5h3v3h-3zM540.9 972.5h3v3h-3zM561.9 933.5h3v3h-3zM564.9 930.5h3v3h-3zM570.9 921.5h3v3h-3zM501.9 1035.5h3v3h-3zM531.9 984.5h3v3h-3zM537.9 975.5h3v3h-3zM567.9 924.5h3v3h-3zM504.9 1029.5h3v3h-3zM510.9 1020.5h3v3h-3zM507.9 1026.5h3v3h-3zM513.9 1017.5h3v3h-3zM534.9 978.5h3v3h-3zM540.9 969.5h3v3h-3zM546.9 960.5h3v3h-3zM543.9 966.5h3v3h-3zM549.9 957.5h3v3h-3zM480.9 1071.5h3v3h-3zM486.9 1062.5h3v3h-3zM483.9 1065.5h3v3h-3zM483.9 1068.5h3v3h-3zM516.9 1011.5h3v3h-3zM522.9 1002.5h3v3h-3zM552.9 951.5h3v3h-3zM558.9 942.5h3v3h-3zM582.1 902.5h3v3h-3zM597.1 881.5h3v3h-3zM663.1 794.5h3v3h-3zM615.1 860.5h3v3h-3zM630.1 839.5h3v3h-3zM639.1 827.5h3v3h-3zM651.1 809.5h3v3h-3zM636.1 830.5h3v3h-3zM588.1 896.5h3v3h-3zM654.1 806.5h3v3h-3zM591.1 893.5h3v3h-3zM660.1 797.5h3v3h-3zM606.1 872.5h3v3h-3zM612.1 863.5h3v3h-3zM621.1 851.5h3v3h-3zM627.1 842.5h3v3h-3zM582.1 905.5h3v3h-3zM642.1 821.5h3v3h-3zM648.1 812.5h3v3h-3zM645.1 818.5h3v3h-3zM597.1 884.5h3v3h-3zM603.1 875.5h3v3h-3zM579.1 908.5h3v3h-3zM585.1 899.5h3v3h-3zM657.1 800.5h3v3h-3zM594.1 887.5h3v3h-3zM600.1 878.5h3v3h-3zM618.1 854.5h3v3h-3zM609.1 866.5h3v3h-3zM615.1 857.5h3v3h-3zM633.1 833.5h3v3h-3zM570.1 920.5h3v3h-3zM576.1 911.5h3v3h-3zM624.1 845.5h3v3h-3zM630.1 836.5h3v3h-3zM639.1 824.5h3v3h-3zM573.1 914.5h3v3h-3zM573.1 917.5h3v3h-3zM591.1 890.5h3v3h-3zM654.1 803.5h3v3h-3zM606.1 869.5h3v3h-3zM621.1 848.5h3v3h-3zM645.1 815.5h3v3h-3zM661.8 793.4h93v3h-93zM825.8 880.4h3v3h-3zM822.8 874.4h3v3h-3zM828.8 883.4h3v3h-3zM804.8 853.4h3v3h-3zM810.8 862.4h3v3h-3zM792.8 841.4h3v3h-3zM774.8 820.4h3v3h-3zM843.8 898.4h3v3h-3zM756.8 799.4h3v3h-3zM831.8 886.4h3v3h-3zM825.8 877.4h3v3h-3zM795.8 844.4h3v3h-3zM762.8 808.4h3v3h-3zM759.8 802.4h3v3h-3zM765.8 811.4h3v3h-3zM813.8 865.4h3v3h-3zM816.8 868.4h3v3h-3zM777.8 823.4h3v3h-3zM780.8 826.4h3v3h-3zM783.8 832.4h3v3h-3zM834.8 889.4h3v3h-3zM768.8 814.4h3v3h-3zM798.8 847.4h3v3h-3zM804.8 856.4h3v3h-3zM786.8 835.4h3v3h-3zM762.8 805.4h3v3h-3zM837.8 892.4h3v3h-3zM750.8 793.4h3v3h-3zM819.8 871.4h3v3h-3zM753.8 796.4h3v3h-3zM840.8 895.4h3v3h-3zM801.8 850.4h3v3h-3zM783.8 829.4h3v3h-3zM807.8 859.4h3v3h-3zM789.8 838.4h3v3h-3zM771.8 817.4h3v3h-3zM896.8 912.1h12v3h-12zM932.8 921.1h6v3h-6zM884.8 909.1h12v3h-12zM848.8 900.1h12v3h-12zM860.8 903.1h12v3h-12zM920.8 918.1h12v3h-12zM872.8 906.1h12v3h-12zM842.8 897.1h6v3h-6zM908.8 915.1h12v3h-12zM943.4 905.5h3v3h-3zM958.4 875.5h3v3h-3zM961.4 872.5h3v3h-3zM982.4 833.5h3v3h-3zM964.4 866.5h3v3h-3zM979.4 836.5h3v3h-3zM1000.4 797.5h3v3h-3zM988.4 824.5h3v3h-3zM997.4 803.5h3v3h-3zM1003.4 794.5h3v3h-3zM1018.4 764.5h3v3h-3zM940.4 908.5h3v3h-3zM985.4 827.5h3v3h-3zM991.4 818.5h3v3h-3zM1009.4 785.5h3v3h-3zM1006.4 788.5h3v3h-3zM1012.4 779.5h3v3h-3zM946.4 899.5h3v3h-3zM961.4 869.5h3v3h-3zM943.4 902.5h3v3h-3zM949.4 893.5h3v3h-3zM964.4 863.5h3v3h-3zM967.4 860.5h3v3h-3zM982.4 830.5h3v3h-3zM973.4 851.5h3v3h-3zM988.4 821.5h3v3h-3zM994.4 812.5h3v3h-3zM1015.4 773.5h3v3h-3zM955.4 884.5h3v3h-3zM970.4 854.5h3v3h-3zM952.4 887.5h3v3h-3zM976.4 845.5h3v3h-3zM991.4 815.5h3v3h-3zM1012.4 776.5h3v3h-3zM1009.4 782.5h3v3h-3zM949.4 890.5h3v3h-3zM946.4 896.5h3v3h-3zM967.4 857.5h3v3h-3zM958.4 878.5h3v3h-3zM973.4 848.5h3v3h-3zM979.4 839.5h3v3h-3zM997.4 806.5h3v3h-3zM994.4 809.5h3v3h-3zM1000.4 800.5h3v3h-3zM1015.4 770.5h3v3h-3zM934.4 920.5h3v3h-3zM940.4 911.5h3v3h-3zM1018.4 767.5h3v3h-3zM1024.4 758.5h3v3h-3zM937.4 914.5h3v3h-3zM937.4 917.5h3v3h-3zM955.4 881.5h3v3h-3zM976.4 842.5h3v3h-3zM1006.4 791.5h3v3h-3zM1021.4 761.5h3v3h-3zM1035 766.7h3v3h-3zM1059 787.7h3v3h-3zM1083 808.7h6v3h-6zM1038 769.7h3v3h-3zM1092 814.7h3v3h-3zM1116 835.7h3v3h-3zM1029 763.7h6v3h-6zM1101 823.7h6v3h-6zM1062 790.7h3v3h-3zM1041 772.7h3v3h-3zM1071 796.7h3v3h-3zM1095 817.7h3v3h-3zM1065 793.7h6v3h-6zM1047 778.7h6v3h-6zM1074 799.7h3v3h-3zM1107 826.7h3v3h-3zM1053 781.7h3v3h-3zM1098 820.7h3v3h-3zM1044 775.7h3v3h-3zM1077 802.7h3v3h-3zM1110 829.7h3v3h-3zM1089 811.7h3v3h-3zM1023 757.7h3v3h-3zM1026 760.7h3v3h-3zM1056 784.7h3v3h-3zM1080 805.7h3v3h-3zM1113 832.7h3v3h-3zM1114.9 834.7h27v3h-27zM1141.9 837.7h48v3h-48zM1189.9 840.7h18v3h-18zM1228.8 777.3h3v3h-3zM1234.8 768.3h3v3h-3zM1231.8 774.3h3v3h-3zM1243.8 747.3h3v3h-3zM1258.8 708.3h3v3h-3zM1249.8 729.3h3v3h-3zM1264.8 690.3h3v3h-3zM1267.8 687.3h3v3h-3zM1273.8 669.3h3v3h-3zM1285.8 642.3h3v3h-3zM1288.8 630.3h3v3h-3zM1225.8 789.3h3v3h-3zM1207.8 831.3h3v3h-3zM1255.8 711.3h3v3h-3zM1210.8 828.3h3v3h-3zM1240.8 750.3h3v3h-3zM1222.8 792.3h3v3h-3zM1261.8 702.3h3v3h-3zM1276.8 663.3h3v3h-3zM1279.8 651.3h3v3h-3zM1282.8 645.3h3v3h-3zM1291.8 624.3h3v3h-3zM1216.8 810.3h3v3h-3zM1231.8 771.3h3v3h-3zM1219.8 804.3h3v3h-3zM1228.8 783.3h3v3h-3zM1249.8 726.3h3v3h-3zM1252.8 723.3h3v3h-3zM1234.8 765.3h3v3h-3zM1243.8 744.3h3v3h-3zM1258.8 705.3h3v3h-3zM1267.8 684.3h3v3h-3zM1270.8 678.3h3v3h-3zM1273.8 666.3h3v3h-3zM1285.8 639.3h3v3h-3zM1294.8 618.3h3v3h-3zM1288.8 633.3h3v3h-3zM1204.8 837.3h3v3h-3zM1210.8 825.3h3v3h-3zM1246.8 738.3h3v3h-3zM1255.8 717.3h3v3h-3zM1225.8 786.3h3v3h-3zM1276.8 660.3h3v3h-3zM1222.8 798.3h3v3h-3zM1261.8 699.3h3v3h-3zM1279.8 657.3h3v3h-3zM1291.8 621.3h3v3h-3zM1219.8 801.3h3v3h-3zM1216.8 807.3h3v3h-3zM1213.8 819.3h3v3h-3zM1234.8 762.3h3v3h-3zM1243.8 741.3h3v3h-3zM1237.8 759.3h3v3h-3zM1228.8 780.3h3v3h-3zM1249.8 732.3h3v3h-3zM1252.8 720.3h3v3h-3zM1264.8 693.3h3v3h-3zM1267.8 681.3h3v3h-3zM1270.8 675.3h3v3h-3zM1273.8 672.3h3v3h-3zM1285.8 636.3h3v3h-3zM1294.8 615.3h3v3h-3zM1204.8 840.3h3v3h-3zM1240.8 753.3h3v3h-3zM1222.8 795.3h3v3h-3zM1210.8 822.3h3v3h-3zM1261.8 696.3h3v3h-3zM1207.8 834.3h3v3h-3zM1246.8 735.3h3v3h-3zM1255.8 714.3h3v3h-3zM1279.8 654.3h3v3h-3zM1282.8 648.3h3v3h-3zM1291.8 627.3h3v3h-3zM1213.8 816.3h3v3h-3zM1216.8 813.3h3v3h-3zM1237.8 756.3h3v3h-3zM1313.6 651.6h3v3h-3zM1379.6 771.6h3v3h-3zM1376.6 765.6h3v3h-3zM1343.6 702.6h3v3h-3zM1370.6 756.6h3v3h-3zM1367.6 750.6h3v3h-3zM1331.6 681.6h3v3h-3zM1310.6 645.6h3v3h-3zM1358.6 735.6h3v3h-3zM1355.6 729.6h3v3h-3zM1373.6 759.6h3v3h-3zM1322.6 666.6h3v3h-3zM1319.6 660.6h3v3h-3zM1325.6 669.6h3v3h-3zM1364.6 744.6h3v3h-3zM1361.6 738.6h3v3h-3zM1328.6 675.6h3v3h-3zM1313.6 648.6h3v3h-3zM1352.6 723.6h3v3h-3zM1334.6 687.6h3v3h-3zM1316.6 654.6h3v3h-3zM1367.6 747.6h3v3h-3zM1307.6 639.6h3v3h-3zM1304.6 633.6h3v3h-3zM1385.6 786.6h3v3h-3zM1310.6 642.6h3v3h-3zM1370.6 753.6h3v3h-3zM1349.6 717.6h3v3h-3zM1355.6 726.6h3v3h-3zM1322.6 663.6h3v3h-3zM1301.6 627.6h3v3h-3zM1298.6 621.6h3v3h-3zM1358.6 732.6h3v3h-3zM1337.6 696.6h3v3h-3zM1382.6 780.6h3v3h-3zM1346.6 711.6h3v3h-3zM1352.6 720.6h3v3h-3zM1376.6 768.6h3v3h-3zM1334.6 690.6h3v3h-3zM1343.6 705.6h3v3h-3zM1340.6 699.6h3v3h-3zM1379.6 774.6h3v3h-3zM1307.6 636.6h3v3h-3zM1304.6 630.6h3v3h-3zM1385.6 783.6h3v3h-3zM1349.6 714.6h3v3h-3zM1331.6 684.6h3v3h-3zM1295.6 615.6h3v3h-3zM1373.6 762.6h3v3h-3zM1298.6 618.6h3v3h-3zM1337.6 693.6h3v3h-3zM1301.6 624.6h3v3h-3zM1382.6 777.6h3v3h-3zM1361.6 741.6h3v3h-3zM1328.6 678.6h3v3h-3zM1325.6 672.6h3v3h-3zM1346.6 708.6h3v3h-3zM1316.6 657.6h3v3h-3zM1441.1 646.2h3v3h-3zM1468.1 580.2h3v3h-3zM1453.1 619.2h3v3h-3zM1438.1 658.2h3v3h-3zM1423.1 697.2h3v3h-3zM1405.1 739.2h3v3h-3zM1465.1 583.2h3v3h-3zM1450.1 622.2h3v3h-3zM1435.1 661.2h3v3h-3zM1447.1 634.2h3v3h-3zM1387.1 784.2h3v3h-3zM1393.1 772.2h3v3h-3zM1474.1 559.2h3v3h-3zM1459.1 598.2h3v3h-3zM1432.1 670.2h3v3h-3zM1417.1 709.2h3v3h-3zM1387.1 787.2h3v3h-3zM1474.1 565.2h3v3h-3zM1459.1 604.2h3v3h-3zM1426.1 685.2h3v3h-3zM1411.1 724.2h3v3h-3zM1471.1 568.2h3v3h-3zM1429.1 679.2h3v3h-3zM1399.1 757.2h3v3h-3zM1468.1 577.2h3v3h-3zM1453.1 616.2h3v3h-3zM1423.1 694.2h3v3h-3zM1408.1 733.2h3v3h-3zM1441.1 649.2h3v3h-3zM1447.1 631.2h3v3h-3zM1405.1 742.2h3v3h-3zM1465.1 586.2h3v3h-3zM1462.1 592.2h3v3h-3zM1390.1 781.2h3v3h-3zM1435.1 664.2h3v3h-3zM1417.1 706.2h3v3h-3zM1420.1 703.2h3v3h-3zM1402.1 745.2h3v3h-3zM1459.1 601.2h3v3h-3zM1444.1 640.2h3v3h-3zM1411.1 721.2h3v3h-3zM1414.1 718.2h3v3h-3zM1396.1 760.2h3v3h-3zM1402.1 751.2h3v3h-3zM1477.1 556.2h3v3h-3zM1438.1 655.2h3v3h-3zM1471.1 571.2h3v3h-3zM1453.1 613.2h3v3h-3zM1396.1 766.2h3v3h-3zM1456.1 610.2h3v3h-3zM1408.1 730.2h3v3h-3zM1393.1 769.2h3v3h-3zM1447.1 628.2h3v3h-3zM1450.1 625.2h3v3h-3zM1432.1 667.2h3v3h-3zM1408.1 736.2h3v3h-3zM1390.1 778.2h3v3h-3zM1462.1 589.2h3v3h-3zM1393.1 775.2h3v3h-3zM1474.1 562.2h3v3h-3zM1420.1 700.2h3v3h-3zM1432.1 673.2h3v3h-3zM1417.1 712.2h3v3h-3zM1462.1 595.2h3v3h-3zM1444.1 637.2h3v3h-3zM1429.1 676.2h3v3h-3zM1414.1 715.2h3v3h-3zM1402.1 748.2h3v3h-3zM1399.1 754.2h3v3h-3zM1426.1 688.2h3v3h-3zM1468.1 574.2h3v3h-3zM1411.1 727.2h3v3h-3zM1438.1 652.2h3v3h-3zM1444.1 643.2h3v3h-3zM1423.1 691.2h3v3h-3zM1429.1 682.2h3v3h-3zM1396.1 763.2h3v3h-3zM1456.1 607.2h3v3h-3zM1494.3 610h3v3h-3zM1515.3 682h3v3h-3zM1539.3 748h3v3h-3zM1494.3 616h3v3h-3zM1524.3 703h3v3h-3zM1512.3 664h3v3h-3zM1560.3 817h3v3h-3zM1503.3 640h3v3h-3zM1548.3 778h3v3h-3zM1539.3 754h3v3h-3zM1554.3 796h3v3h-3zM1497.3 619h3v3h-3zM1527.3 715h3v3h-3zM1542.3 757h3v3h-3zM1485.3 580h3v3h-3zM1533.3 733h3v3h-3zM1563.3 829h3v3h-3zM1476.3 556h3v3h-3zM1521.3 694h3v3h-3zM1512.3 670h3v3h-3zM1518.3 688h3v3h-3zM1548.3 784h3v3h-3zM1500.3 631h3v3h-3zM1506.3 649h3v3h-3zM1554.3 802h3v3h-3zM1497.3 625h3v3h-3zM1542.3 763h3v3h-3zM1485.3 586h3v3h-3zM1491.3 604h3v3h-3zM1521.3 700h3v3h-3zM1479.3 565h3v3h-3zM1551.3 787h3v3h-3zM1488.3 589h3v3h-3zM1530.3 721h3v3h-3zM1551.3 793h3v3h-3zM1566.3 835h3v3h-3zM1509.3 658h3v3h-3zM1545.3 772h3v3h-3zM1488.3 595h3v3h-3zM1524.3 709h3v3h-3zM1482.3 574h3v3h-3zM1530.3 727h3v3h-3zM1566.3 841h3v3h-3zM1527.3 712h3v3h-3zM1515.3 673h3v3h-3zM1563.3 826h3v3h-3zM1512.3 667h3v3h-3zM1557.3 805h3v3h-3zM1500.3 628h3v3h-3zM1548.3 781h3v3h-3zM1506.3 646h3v3h-3zM1536.3 742h3v3h-3zM1527.3 718h3v3h-3zM1542.3 760h3v3h-3zM1485.3 583h3v3h-3zM1515.3 679h3v3h-3zM1521.3 697h3v3h-3zM1479.3 562h3v3h-3zM1557.3 811h3v3h-3zM1500.3 634h3v3h-3zM1506.3 652h3v3h-3zM1494.3 613h3v3h-3zM1542.3 766h3v3h-3zM1479.3 568h3v3h-3zM1560.3 814h3v3h-3zM1503.3 637h3v3h-3zM1551.3 790h3v3h-3zM1566.3 832h3v3h-3zM1509.3 655h3v3h-3zM1539.3 751h3v3h-3zM1545.3 769h3v3h-3zM1488.3 592h3v3h-3zM1533.3 730h3v3h-3zM1524.3 706h3v3h-3zM1482.3 571h3v3h-3zM1530.3 724h3v3h-3zM1560.3 820h3v3h-3zM1503.3 643h3v3h-3zM1518.3 685h3v3h-3zM1566.3 838h3v3h-3zM1509.3 661h3v3h-3zM1554.3 799h3v3h-3zM1497.3 622h3v3h-3zM1545.3 775h3v3h-3zM1563.3 823h3v3h-3zM1488.3 598h3v3h-3zM1533.3 736h3v3h-3zM1476.3 559h3v3h-3zM1491.3 601h3v3h-3zM1482.3 577h3v3h-3zM1518.3 691h3v3h-3zM1536.3 739h3v3h-3zM1515.3 676h3v3h-3zM1491.3 607h3v3h-3zM1557.3 808h3v3h-3zM1536.3 745h3v3h-3zM1612.8 903.3h3v3h-3zM1642.8 945.3h3v3h-3zM1576.8 852.3h3v3h-3zM1621.8 918.3h3v3h-3zM1579.8 858.3h3v3h-3zM1582.8 861.3h3v3h-3zM1654.8 963.3h3v3h-3zM1591.8 876.3h3v3h-3zM1618.8 912.3h3v3h-3zM1624.8 921.3h3v3h-3zM1651.8 957.3h3v3h-3zM1588.8 870.3h3v3h-3zM1585.8 864.3h3v3h-3zM1657.8 966.3h3v3h-3zM1615.8 906.3h3v3h-3zM1579.8 855.3h3v3h-3zM1621.8 915.3h3v3h-3zM1630.8 930.3h3v3h-3zM1627.8 924.3h3v3h-3zM1591.8 873.3h3v3h-3zM1636.8 939.3h3v3h-3zM1633.8 933.3h3v3h-3zM1570.8 846.3h3v3h-3zM1594.8 879.3h3v3h-3zM1600.8 888.3h3v3h-3zM1597.8 882.3h3v3h-3zM1606.8 897.3h3v3h-3zM1642.8 948.3h3v3h-3zM1639.8 942.3h3v3h-3zM1645.8 951.3h3v3h-3zM1603.8 891.3h3v3h-3zM1630.8 927.3h3v3h-3zM1567.8 840.3h3v3h-3zM1570.8 843.3h3v3h-3zM1609.8 900.3h3v3h-3zM1636.8 936.3h3v3h-3zM1573.8 849.3h3v3h-3zM1600.8 885.3h3v3h-3zM1606.8 894.3h3v3h-3zM1651.8 960.3h3v3h-3zM1648.8 954.3h3v3h-3zM1585.8 867.3h3v3h-3zM1615.8 909.3h3v3h-3zM1732 1052h3v3h-3zM1666 977h3v3h-3zM1699 1013h3v3h-3zM1720 1040h3v3h-3zM1681 992h3v3h-3zM1723 1043h3v3h-3zM1663 971h3v3h-3zM1684 998h3v3h-3zM1687 1001h3v3h-3zM1741 1064h3v3h-3zM1705 1022h3v3h-3zM1747 1073h3v3h-3zM1669 980h3v3h-3zM1666 974h3v3h-3zM1672 983h3v3h-3zM1744 1067h3v3h-3zM1726 1046h3v3h-3zM1708 1025h3v3h-3zM1714 1034h3v3h-3zM1690 1004h3v3h-3zM1747 1070h3v3h-3zM1675 986h3v3h-3zM1729 1049h3v3h-3zM1711 1028h3v3h-3zM1732 1055h3v3h-3zM1693 1007h3v3h-3zM1735 1058h3v3h-3zM1717 1037h3v3h-3zM1657 965h3v3h-3zM1699 1016h3v3h-3zM1660 968h3v3h-3zM1681 995h3v3h-3zM1738 1061h3v3h-3zM1714 1031h3v3h-3zM1696 1010h3v3h-3zM1702 1019h3v3h-3zM1678 989h3v3h-3zM1778.5 981.9h3v3h-3zM1799.5 915.9h3v3h-3zM1835.5 810.9h3v3h-3zM1754.5 1050.9h3v3h-3zM1790.5 945.9h3v3h-3zM1811.5 879.9h3v3h-3zM1802.5 909.9h3v3h-3zM1787.5 957.9h3v3h-3zM1772.5 996.9h3v3h-3zM1823.5 843.9h3v3h-3zM1748.5 1068.9h3v3h-3zM1754.5 1056.9h3v3h-3zM1784.5 960.9h3v3h-3zM1829.5 822.9h3v3h-3zM1796.5 924.9h3v3h-3zM1832.5 819.9h3v3h-3zM1772.5 1002.9h3v3h-3zM1748.5 1071.9h3v3h-3zM1784.5 966.9h3v3h-3zM1793.5 933.9h3v3h-3zM1760.5 1035.9h3v3h-3zM1829.5 828.9h3v3h-3zM1814.5 867.9h3v3h-3zM1781.5 969.9h3v3h-3zM1841.5 792.9h3v3h-3zM1826.5 831.9h3v3h-3zM1766.5 1014.9h3v3h-3zM1769.5 1011.9h3v3h-3zM1838.5 795.9h3v3h-3zM1778.5 978.9h3v3h-3zM1814.5 873.9h3v3h-3zM1781.5 975.9h3v3h-3zM1799.5 912.9h3v3h-3zM1835.5 807.9h3v3h-3zM1790.5 942.9h3v3h-3zM1826.5 837.9h3v3h-3zM1766.5 1020.9h3v3h-3zM1751.5 1059.9h3v3h-3zM1802.5 906.9h3v3h-3zM1838.5 801.9h3v3h-3zM1778.5 984.9h3v3h-3zM1775.5 990.9h3v3h-3zM1808.5 888.9h3v3h-3zM1763.5 1023.9h3v3h-3zM1790.5 948.9h3v3h-3zM1820.5 852.9h3v3h-3zM1751.5 1065.9h3v3h-3zM1796.5 921.9h3v3h-3zM1832.5 816.9h3v3h-3zM1772.5 999.9h3v3h-3zM1763.5 1029.9h3v3h-3zM1784.5 963.9h3v3h-3zM1805.5 897.9h3v3h-3zM1829.5 825.9h3v3h-3zM1796.5 927.9h3v3h-3zM1817.5 861.9h3v3h-3zM1757.5 1044.9h3v3h-3zM1769.5 1008.9h3v3h-3zM1814.5 870.9h3v3h-3zM1811.5 876.9h3v3h-3zM1781.5 972.9h3v3h-3zM1787.5 954.9h3v3h-3zM1826.5 834.9h3v3h-3zM1823.5 840.9h3v3h-3zM1799.5 918.9h3v3h-3zM1754.5 1053.9h3v3h-3zM1838.5 798.9h3v3h-3zM1808.5 885.9h3v3h-3zM1775.5 987.9h3v3h-3zM1811.5 882.9h3v3h-3zM1820.5 849.9h3v3h-3zM1823.5 846.9h3v3h-3zM1751.5 1062.9h3v3h-3zM1757.5 1047.9h3v3h-3zM1832.5 813.9h3v3h-3zM1808.5 891.9h3v3h-3zM1775.5 993.9h3v3h-3zM1763.5 1026.9h3v3h-3zM1760.5 1032.9h3v3h-3zM1793.5 930.9h3v3h-3zM1820.5 855.9h3v3h-3zM1805.5 894.9h3v3h-3zM1817.5 858.9h3v3h-3zM1757.5 1041.9h3v3h-3zM1793.5 936.9h3v3h-3zM1760.5 1038.9h3v3h-3zM1769.5 1005.9h3v3h-3zM1805.5 900.9h3v3h-3zM1835.5 804.9h3v3h-3zM1790.5 939.9h3v3h-3zM1766.5 1017.9h3v3h-3zM1817.5 864.9h3v3h-3zM1802.5 903.9h3v3h-3zM1787.5 951.9h3v3h-3zM1918.4 874h3v3h-3zM1876.4 832h3v3h-3zM1903.4 859h3v3h-3zM1906.4 862h3v3h-3zM1846.4 799h3v3h-3zM1891.4 847h3v3h-3zM1921.4 877h3v3h-3zM1915.4 871h3v3h-3zM1879.4 835h3v3h-3zM1861.4 814h3v3h-3zM1894.4 850h3v3h-3zM1849.4 802h3v3h-3zM1882.4 838h3v3h-3zM1909.4 865h3v3h-3zM1864.4 817h3v3h-3zM1870.4 826h3v3h-3zM1897.4 853h3v3h-3zM1924.4 880h3v3h-3zM1885.4 841h3v3h-3zM1912.4 868h3v3h-3zM1900.4 856h3v3h-3zM1852.4 805h3v3h-3zM1927.4 883h3v3h-3zM1855.4 808h3v3h-3zM1840.4 793h3v3h-3zM1867.4 820h3v3h-3zM1843.4 796h3v3h-3zM1873.4 829h3v3h-3zM1870.4 823h3v3h-3zM1858.4 811h3v3h-3zM1930.4 886h3v3h-3zM1888.4 844h3v3h-3zM1992 918.4h6v3h-6zM1968 906.4h6v3h-6zM1980 912.4h6v3h-6zM1956 900.4h6v3h-6zM2016 930.4h6v3h-6zM1950 897.4h6v3h-6zM2004 924.4h6v3h-6zM1974 909.4h6v3h-6zM1938 891.4h6v3h-6zM1986 915.4h6v3h-6zM2022 933.4h3v3h-3zM1962 903.4h6v3h-6zM1998 921.4h6v3h-6zM1944 894.4h6v3h-6zM2010 927.4h6v3h-6zM1932 888.4h6v3h-6zM1929 885.4h3v3h-3z"/>
<path fill="#008b00" d="M280.2 1036.2h39v3h-39zM289.2 1027.2h3v3h-3zM298.2 1027.2h3v3h-3zM307.2 1027.2h3v3h-3zM289.2 1045.2h3v3h-3zM298.2 1045.2h3v3h-3zM307.2 1045.2h3v3h-3zM286.2 1024.2h3v3h-3zM298.2 1024.2h3v3h-3zM310.2 1024.2h3v3h-3zM292.2 1042.2h3v3h-3zM298.2 1042.2h3v3h-3zM304.2 1042.2h3v3h-3zM298.2 1051.2h3v3h-3zM286.2 1048.2h3v3h-3zM298.2 1048.2h3v3h-3zM310.2 1048.2h3v3h-3zM292.2 1030.2h3v3h-3zM298.2 1030.2h3v3h-3zM304.2 1030.2h3v3h-3zM295.2 1033.2h9v3h-9zM295.2 1039.2h9v3h-9zM298.2 1021.2h3v3h-3zM298.2 1018.2h3v3h-3zM298.2 1054.2h3v3h-3zM371.5 775.5h39v3h-39zM380.5 766.5h3v3h-3zM389.5 766.5h3v3h-3zM398.5 766.5h3v3h-3zM380.5 784.5h3v3h-3zM389.5 784.5h3v3h-3zM398.5 784.5h3v3h-3zM377.5 763.5h3v3h-3zM389.5 763.5h3v3h-3zM401.5 763.5h3v3h-3zM383.5 781.5h3v3h-3zM389.5 781.5h3v3h-3zM395.5 781.5h3v3h-3zM389.5 790.5h3v3h-3zM377.5 787.5h3v3h-3zM389.5 787.5h3v3h-3zM401.5 787.5h3v3h-3zM383.5 769.5h3v3h-3zM389.5 769.5h3v3h-3zM395.5 769.5h3v3h-3zM386.5 772.5h9v3h-9zM386.5 778.5h9v3h-9zM389.5 760.5h3v3h-3zM389.5 757.5h3v3h-3zM389.5 793.5h3v3h-3zM462.9 1071.5h39v3h-39zM471.9 1062.5h3v3h-3zM480.9 1062.5h3v3h-3zM489.9 1062.5h3v3h-3zM471.9 1080.5h3v3h-3zM480.9 1080.5h3v3h-3zM489.9 1080.5h3v3h-3zM468.9 1059.5h3v3h-3zM480.9 1059.5h3v3h-3zM492.9 1059.5h3v3h-3zM474.9 1077.5h3v3h-3zM480.9 1077.5h3v3h-3zM486.9 1077.5h3v3h-3zM480.9 1086.5h3v3h-3zM468.9 1083.5h3v3h-3zM480.9 1083.5h3v3h-3zM492.9 1083.5h3v3h-3zM474.9 1065.5h3v3h-3zM480.9 1065.5h3v3h-3zM486.9 1065.5h3v3h-3zM477.9 1068.5h9v3h-9zM477.9 1074.5h9v3h-9zM480.9 1056.5h3v3h-3zM480.9 1053.5h3v3h-3zM480.9 1089.5h3v3h-3zM552.1 920.5h39v3h-39zM561.1 911.5h3v3h-3zM570.1 911.5h3v3h-3zM579.1 911.5h3v3h-3zM561.1 929.5h3v3h-3zM570.1 929.5h3v3h-3zM579.1 929.5h3v3h-3zM558.1 908.5h3v3h-3zM570.1 908.5h3v3h-3zM582.1 908.5h3v3h-3zM564.1 926.5h3v3h-3zM570.1 926.5h3v3h-3zM576.1 926.5h3v3h-3zM570.1 935.5h3v3h-3zM558.1 932.5h3v3h-3zM570.1 932.5h3v3h-3zM582.1 932.5h3v3h-3zM564.1 914.5h3v3h-3zM570.1 914.5h3v3h-3zM576.1 914.5h3v3h-3zM567.1 917.5h9v3h-9zM567.1 923.5h9v3h-9zM570.1 905.5h3v3h-3zM570.1 902.5h3v3h-3zM570.1 938.5h3v3h-3zM643.8 793.4h39v3h-39zM652.8 784.4h3v3h-3zM661.8 784.4h3v3h-3zM670.8 784.4h3v3h-3zM652.8 802.4h3v3h-3zM661.8 802.4h3v3h-3zM670.8 802.4h3v3h-3zM649.8 781.4h3v3h-3zM661.8 781.4h3v3h-3zM673.8 781.4h3v3h-3zM655.8 799.4h3v3h-3zM661.8 799.4h3v3h-3zM667.8 799.4h3v3h-3zM661.8 808.4h3v3h-3zM649.8 805.4h3v3h-3zM661.8 805.4h3v3h-3zM673.8 805.4h3v3h-3zM655.8 787.4h3v3h-3zM661.8 787.4h3v3h-3zM667.8 787.4h3v3h-3zM658.8 790.4h9v3h-9zM658.8 796.4h9v3h-9zM661.8 778.4h3v3h-3zM661.8 775.4h3v3h-3zM661.8 811.4h3v3h-3zM732.8 793.4h39v3h-39zM741.8 784.4h3v3h-3zM750.8 784.4h3v3h-3zM759.8 784.4h3v3h-3zM741.8 802.4h3v3h-3zM750.8 802.4h3v3h-3zM759.8 802.4h3v3h-3zM738.8 781.4h3v3h-3zM750.8 781.4h3v3h-3zM762.8 781.4h3v3h-3zM744.8 799.4h3v3h-3zM750.8 799.4h3v3h-3zM756.8 799.4h3v3h-3zM750.8 808.4h3v3h-3zM738.8 805.4h3v3h-3zM750.8 805.4h3v3h-3zM762.8 805.4h3v3h-3zM744.8 787.4h3v3h-3zM750.8 787.4h3v3h-3zM756.8 787.4h3v3h-3zM747.8 790.4h9v3h-9zM747.8 796.4h9v3h-9zM750.8 778.4h3v3h-3zM750.8 775.4h3v3h-3zM750.8 811.4h3v3h-3zM824.8 897.1h39v3h-39zM833.8 888.1h3v3h-3zM842.8 888.1h3v3h-3zM851.8 888.1h3v3h-3zM833.8 906.1h3v3h-3zM842.8 906.1h3v3h-3zM851.8 906.1h3v3h-3zM830.8 885.1h3v3h-3zM842.8 885.1h3v3h-3zM854.8 885.1h3v3h-3zM836.8 903.1h3v3h-3zM842.8 903.1h3v3h-3zM848.8 903.1h3v3h-3zM842.8 912.1h3v3h-3zM830.8 909.1h3v3h-3zM842.8 909.1h3v3h-3zM854.8 909.1h3v3h-3zM836.8 891.1h3v3h-3zM842.8 891.1h3v3h-3zM848.8 891.1h3v3h-3zM839.8 894.1h9v3h-9zM839.8 900.1h9v3h-9zM842.8 882.1h3v3h-3zM842.8 879.1h3v3h-3zM842.8 915.1h3v3h-3zM916.4 920.5h39v3h-39zM925.4 911.5h3v3h-3zM934.4 911.5h3v3h-3zM943.4 911.5h3v3h-3zM925.4 929.5h3v3h-3zM934.4 929.5h3v3h-3zM943.4 929.5h3v3h-3zM922.4 908.5h3v3h-3zM934.4 908.5h3v3h-3zM946.4 908.5h3v3h-3zM928.4 926.5h3v3h-3zM934.4 926.5h3v3h-3zM940.4 926.5h3v3h-3zM934.4 935.5h3v3h-3zM922.4 932.5h3v3h-3zM934.4 932.5h3v3h-3zM946.4 932.5h3v3h-3zM928.4 914.5h3v3h-3zM934.4 914.5h3v3h-3zM940.4 914.5h3v3h-3zM931.4 917.5h9v3h-9zM931.4 923.5h9v3h-9zM934.4 905.5h3v3h-3zM934.4 902.5h3v3h-3zM934.4 938.5h3v3h-3zM1005 757.7h39v3h-39zM1014 748.7h3v3h-3zM1023 748.7h3v3h-3zM1032 748.7h3v3h-3zM1014 766.7h3v3h-3zM1023 766.7h3v3h-3zM1032 766.7h3v3h-3zM1011 745.7h3v3h-3zM1023 745.7h3v3h-3zM1035 745.7h3v3h-3zM1017 763.7h3v3h-3zM1023 763.7h3v3h-3zM1029 763.7h3v3h-3zM1023 772.7h3v3h-3zM1011 769.7h3v3h-3zM1023 769.7h3v3h-3zM1035 769.7h3v3h-3zM1017 751.7h3v3h-3zM1023 751.7h3v3h-3zM1029 751.7h3v3h-3zM1020 754.7h9v3h-9zM1020 760.7h9v3h-9zM1023 742.7h3v3h-3zM1023 739.7h3v3h-3zM1023 775.7h3v3h-3zM1096.9 834.7h39v3h-39zM1105.9 825.7h3v3h-3zM1114.9 825.7h3v3h-3zM1123.9 825.7h3v3h-3zM1105.9 843.7h3v3h-3zM1114.9 843.7h3v3h-3zM1123.9 843.7h3v3h-3zM1102.9 822.7h3v3h-3zM1114.9 822.7h3v3h-3zM1126.9 822.7h3v3h-3zM1108.9 840.7h3v3h-3zM1114.9 840.7h3v3h-3zM1120.9 840.7h3v3h-3zM1114.9 849.7h3v3h-3zM1102.9 846.7h3v3h-3zM1114.9 846.7h3v3h-3zM1126.9 846.7h3v3h-3zM1108.9 828.7h3v3h-3zM1114.9 828.7h3v3h-3zM1120.9 828.7h3v3h-3zM1111.9 831.7h9v3h-9zM1111.9 837.7h9v3h-9zM1114.9 819.7h3v3h-3zM1114.9 816.7h3v3h-3zM1114.9 852.7h3v3h-3zM1186.8 840.3h39v3h-39zM1195.8 831.3h3v3h-3zM1204.8 831.3h3v3h-3zM1213.8 831.3h3v3h-3zM1195.8 849.3h3v3h-3zM1204.8 849.3h3v3h-3zM1213.8 849.3h3v3h-3zM1192.8 828.3h3v3h-3zM1204.8 828.3h3v3h-3zM1216.8 828.3h3v3h-3zM1198.8 846.3h3v3h-3zM1204.8 846.3h3v3h-3zM1210.8 846.3h3v3h-3zM1204.8 855.3h3v3h-3zM1192.8 852.3h3v3h-3zM1204.8 852.3h3v3h-3zM1216.8 852.3h3v3h-3zM1198.8 834.3h3v3h-3zM1204.8 834.3h3v3h-3zM1210.8 834.3h3v3h-3zM1201.8 837.3h9v3h-9zM1201.8 843.3h9v3h-9zM1204.8 825.3h3v3h-3zM1204.8 822.3h3v3h-3zM1204.8 858.3h3v3h-3zM1277.6 615.6h39v3h-39zM1286.6 606.6h3v3h-3zM1295.6 606.6h3v3h-3zM1304.6 606.6h3v3h-3zM1286.6 624.6h3v3h-3zM1295.6 624.6h3v3h-3zM1304.6 624.6h3v3h-3zM1283.6 603.6h3v3h-3zM1295.6 603.6h3v3h-3zM1307.6 603.6h3v3h-3zM1289.6 621.6h3v3h-3zM1295.6 621.6h3v3h-3zM1301.6 621.6h3v3h-3zM1295.6 630.6h3v3h-3zM1283.6 627.6h3v3h-3zM1295.6 627.6h3v3h-3zM1307.6 627.6h3v3h-3zM1289.6 609.6h3v3h-3zM1295.6 609.6h3v3h-3zM1301.6 609.6h3v3h-3zM1292.6 612.6h9v3h-9zM1292.6 618.6h9v3h-9zM1295.6 600.6h3v3h-3zM1295.6 597.6h3v3h-3zM1295.6 633.6h3v3h-3zM1369.1 787.2h39v3h-39zM1378.1 778.2h3v3h-3zM1387.1 778.2h3v3h-3zM1396.1 778.2h3v3h-3zM1378.1 796.2h3v3h-3zM1387.1 796.2h3v3h-3zM1396.1 796.2h3v3h-3zM1375.1 775.2h3v3h-3zM1387.1 775.2h3v3h-3zM1399.1 775.2h3v3h-3zM1381.1 793.2h3v3h-3zM1387.1 793.2h3v3h-3zM1393.1 793.2h3v3h-3zM1387.1 802.2h3v3h-3zM1375.1 799.2h3v3h-3zM1387.1 799.2h3v3h-3zM1399.1 799.2h3v3h-3zM1381.1 781.2h3v3h-3zM1387.1 781.2h3v3h-3zM1393.1 781.2h3v3h-3zM1384.1 784.2h9v3h-9zM1384.1 790.2h9v3h-9zM1387.1 772.2h3v3h-3zM1387.1 769.2h3v3h-3zM1387.1 805.2h3v3h-3zM1458.3 556h39v3h-39zM1467.3 547h3v3h-3zM1476.3 547h3v3h-3zM1485.3 547h3v3h-3zM1467.3 565h3v3h-3zM1476.3 565h3v3h-3zM1485.3 565h3v3h-3zM1464.3 544h3v3h-3zM1476.3 544h3v3h-3zM1488.3 544h3v3h-3zM1470.3 562h3v3h-3zM1476.3 562h3v3h-3zM1482.3 562h3v3h-3zM1476.3 571h3v3h-3zM1464.3 568h3v3h-3zM1476.3 568h3v3h-3zM1488.3 568h3v3h-3zM1470.3 550h3v3h-3zM1476.3 550h3v3h-3zM1482.3 550h3v3h-3zM1473.3 553h9v3h-9zM1473.3 559h9v3h-9zM1476.3 541h3v3h-3zM1476.3 538h3v3h-3zM1476.3 574h3v3h-3zM1549.8 840.3h39v3h-39zM1558.8 831.3h3v3h-3zM1567.8 831.3h3v3h-3zM1576.8 831.3h3v3h-3zM1558.8 849.3h3v3h-3zM1567.8 849.3h3v3h-3zM1576.8 849.3h3v3h-3zM1555.8 828.3h3v3h-3zM1567.8 828.3h3v3h-3zM1579.8 828.3h3v3h-3zM1561.8 846.3h3v3h-3zM1567.8 846.3h3v3h-3zM1573.8 846.3h3v3h-3zM1567.8 855.3h3v3h-3zM1555.8 852.3h3v3h-3zM1567.8 852.3h3v3h-3zM1579.8 852.3h3v3h-3zM1561.8 834.3h3v3h-3zM1567.8 834.3h3v3h-3zM1573.8 834.3h3v3h-3zM1564.8 837.3h9v3h-9zM1564.8 843.3h9v3h-9zM1567.8 825.3h3v3h-3zM1567.8 822.3h3v3h-3zM1567.8 858.3h3v3h-3zM1639 965h39v3h-39zM1648 956h3v3h-3zM1657 956h3v3h-3zM1666 956h3v3h-3zM1648 974h3v3h-3zM1657 974h3v3h-3zM1666 974h3v3h-3zM1645 953h3v3h-3zM1657 953h3v3h-3zM1669 953h3v3h-3zM1651 971h3v3h-3zM1657 971h3v3h-3zM1663 971h3v3h-3zM1657 980h3v3h-3zM1645 977h3v3h-3zM1657 977h3v3h-3zM1669 977h3v3h-3zM1651 959h3v3h-3zM1657 959h3v3h-3zM1663 959h3v3h-3zM1654 962h9v3h-9zM1654 968h9v3h-9zM1657 950h3v3h-3zM1657 947h3v3h-3zM1657 983h3v3h-3zM1730.5 1071.9h39v3h-39zM1739.5 1062.9h3v3h-3zM1748.5 1062.9h3v3h-3zM1757.5 1062.9h3v3h-3zM1739.5 1080.9h3v3h-3zM1748.5 1080.9h3v3h-3zM1757.5 1080.9h3v3h-3zM1736.5 1059.9h3v3h-3zM1748.5 1059.9h3v3h-3zM1760.5 1059.9h3v3h-3zM1742.5 1077.9h3v3h-3zM1748.5 1077.9h3v3h-3zM1754.5 1077.9h3v3h-3zM1748.5 1086.9h3v3h-3zM1736.5 1083.9h3v3h-3zM1748.5 1083.9h3v3h-3zM1760.5 1083.9h3v3h-3zM1742.5 1065.9h3v3h-3zM1748.5 1065.9h3v3h-3zM1754.5 1065.9h3v3h-3zM1745.5 1068.9h9v3h-9zM1745.5 1074.9h9v3h-9zM1748.5 1056.9h3v3h-3zM1748.5 1053.9h3v3h-3zM1748.5 1089.9h3v3h-3zM1822.4 793h39v3h-39zM1831.4 784h3v3h-3zM1840.4 784h3v3h-3zM1849.4 784h3v3h-3zM1831.4 802h3v3h-3zM1840.4 802h3v3h-3zM1849.4 802h3v3h-3zM1828.4 781h3v3h-3zM1840.4 781h3v3h-3zM1852.4 781h3v3h-3zM1834.4 799h3v3h-3zM1840.4 799h3v3h-3zM1846.4 799h3v3h-3zM1840.4 808h3v3h-3zM1828.4 805h3v3h-3zM1840.4 805h3v3h-3zM1852.4 805h3v3h-3zM1834.4 787h3v3h-3zM1840.4 787h3v3h-3zM1846.4 787h3v3h-3zM1837.4 790h9v3h-9zM1837.4 796h9v3h-9zM1840.4 778h3v3h-3zM1840.4 775h3v3h-3zM1840.4 811h3v3h-3zM1911 885.4h39v3h-39zM1920 876.4h3v3h-3zM1929 876.4h3v3h-3zM1938 876.4h3v3h-3zM1920 894.4h3v3h-3zM1929 894.4h3v3h-3zM1938 894.4h3v3h-3zM1917 873.4h3v3h-3zM1929 873.4h3v3h-3zM1941 873.4h3v3h-3zM1923 891.4h3v3h-3zM1929 891.4h3v3h-3zM1935 891.4h3v3h-3zM1929 900.4h3v3h-3zM1917 897.4h3v3h-3zM1929 897.4h3v3h-3zM1941 897.4h3v3h-3zM1923 879.4h3v3h-3zM1929 879.4h3v3h-3zM1935 879.4h3v3h-3zM1926 882.4h9v3h-9zM1926 888.4h9v3h-9zM1929 870.4h3v3h-3zM1929 867.4h3v3h-3zM1929 903.4h3v3h-3zM2003.1 932.2h39v3h-39zM2012.1 923.2h3v3h-3zM2021.1 923.2h3v3h-3zM2030.1 923.2h3v3h-3zM2012.1 941.2h3v3h-3zM2021.1 941.2h3v3h-3zM2030.1 941.2h3v3h-3zM2009.1 920.2h3v3h-3zM2021.1 920.2h3v3h-3zM2033.1 920.2h3v3h-3zM2015.1 938.2h3v3h-3zM2021.1 938.2h3v3h-3zM2027.1 938.2h3v3h-3zM2021.1 947.2h3v3h-3zM2009.1 944.2h3v3h-3zM2021.1 944.2h3v3h-3zM2033.1 944.2h3v3h-3zM2015.1 926.2h3v3h-3zM2021.1 926.2h3v3h-3zM2027.1 926.2h3v3h-3zM2018.1 929.2h9v3h-9zM2018.1 935.2h9v3h-9zM2021.1 917.2h3v3h-3zM2021.1 914.2h3v3h-3zM2021.1 950.2h3v3h-3z"/>
<path fill="#ff0000" d="M363.5 590.4h6v3h-6zM297.5 911.4h6v3h-6zM336.5 728.4h6v3h-6zM372.5 554.4h6v3h-6zM306.5 875.4h6v3h-6zM384.5 491.4h6v3h-6zM375.5 530.4h6v3h-6zM351.5 650.4h6v3h-6zM357.5 629.4h6v3h-6zM324.5 788.4h6v3h-6zM360.5 602.4h9v3h-9zM294.5 923.4h9v3h-9zM375.5 539.4h6v3h-6zM333.5 740.4h6v3h-6zM309.5 860.4h6v3h-6zM387.5 476.4h6v3h-6zM345.5 677.4h6v3h-6zM378.5 515.4h6v3h-6zM375.5 542.4h6v3h-6zM360.5 614.4h6v3h-6zM387.5 479.4h6v3h-6zM372.5 551.4h6v3h-6zM318.5 812.4h6v3h-6zM330.5 749.4h6v3h-6zM345.5 686.4h6v3h-6zM336.5 725.4h6v3h-6zM306.5 872.4h6v3h-6zM348.5 662.4h6v3h-6zM384.5 488.4h6v3h-6zM345.5 689.4h6v3h-6zM303.5 884.4h6v3h-6zM357.5 626.4h6v3h-6zM369.5 563.4h6v3h-6zM321.5 797.4h6v3h-6zM333.5 734.4h6v3h-6zM330.5 761.4h6v3h-6zM363.5 599.4h6v3h-6zM342.5 698.4h6v3h-6zM375.5 536.4h6v3h-6zM333.5 737.4h6v3h-6zM348.5 674.4h6v3h-6zM306.5 869.4h6v3h-6zM360.5 611.4h6v3h-6zM318.5 806.4h9v3h-9zM315.5 833.4h6v3h-6zM372.5 548.4h6v3h-6zM327.5 770.4h6v3h-6zM318.5 809.4h6v3h-6zM333.5 746.4h6v3h-6zM345.5 683.4h6v3h-6zM336.5 722.4h6v3h-6zM300.5 905.4h6v3h-6zM381.5 500.4h9v3h-9zM303.5 881.4h6v3h-6zM357.5 623.4h6v3h-6zM318.5 818.4h6v3h-6zM354.5 635.4h6v3h-6zM369.5 560.4h6v3h-6zM330.5 755.4h6v3h-6zM321.5 794.4h6v3h-6zM315.5 821.4h9v3h-9zM330.5 758.4h6v3h-6zM342.5 695.4h6v3h-6zM303.5 890.4h6v3h-6zM384.5 485.4h9v3h-9zM381.5 512.4h6v3h-6zM306.5 866.4h6v3h-6zM303.5 893.4h6v3h-6zM360.5 608.4h6v3h-6zM315.5 830.4h6v3h-6zM357.5 620.4h6v3h-6zM372.5 545.4h6v3h-6zM327.5 767.4h6v3h-6zM366.5 584.4h6v3h-6zM333.5 743.4h6v3h-6zM378.5 521.4h6v3h-6zM345.5 680.4h6v3h-6zM300.5 902.4h6v3h-6zM384.5 497.4h6v3h-6zM336.5 719.4h9v3h-9zM306.5 878.4h6v3h-6zM351.5 656.4h6v3h-6zM318.5 815.4h6v3h-6zM363.5 593.4h6v3h-6zM354.5 632.4h6v3h-6zM330.5 752.4h6v3h-6zM369.5 569.4h6v3h-6zM324.5 791.4h6v3h-6zM381.5 506.4h6v3h-6zM303.5 887.4h6v3h-6zM381.5 509.4h6v3h-6zM339.5 704.4h9v3h-9zM354.5 641.4h6v3h-6zM366.5 578.4h6v3h-6zM357.5 617.4h6v3h-6zM354.5 644.4h6v3h-6zM312.5 839.4h6v3h-6zM366.5 581.4h6v3h-6zM327.5 776.4h6v3h-6zM378.5 518.4h6v3h-6zM339.5 713.4h6v3h-6zM300.5 899.4h6v3h-6zM384.5 494.4h6v3h-6zM339.5 716.4h6v3h-6zM351.5 653.4h6v3h-6zM312.5 848.4h6v3h-6zM315.5 824.4h6v3h-6zM369.5 566.4h6v3h-6zM381.5 503.4h6v3h-6zM342.5 701.4h6v3h-6zM300.5 896.4h6v3h-6zM321.5 800.4h6v3h-6zM354.5 638.4h6v3h-6zM366.5 575.4h6v3h-6zM312.5 836.4h6v3h-6zM327.5 773.4h6v3h-6zM339.5 710.4h6v3h-6zM378.5 527.4h6v3h-6zM351.5 647.4h6v3h-6zM300.5 908.4h6v3h-6zM324.5 785.4h6v3h-6zM312.5 845.4h6v3h-6zM366.5 587.4h6v3h-6zM309.5 857.4h6v3h-6zM351.5 659.4h6v3h-6zM339.5 707.4h6v3h-6zM378.5 524.4h6v3h-6zM324.5 782.4h6v3h-6zM312.5 842.4h6v3h-6zM363.5 596.4h6v3h-6zM297.5 917.4h6v3h-6zM297.5 920.4h6v3h-6zM375.5 533.4h6v3h-6zM309.5 854.4h6v3h-6zM348.5 671.4h6v3h-6zM369.5 572.4h6v3h-6zM387.5 482.4h6v3h-6zM372.5 557.4h6v3h-6zM297.5 914.4h6v3h-6zM342.5 692.4h6v3h-6zM336.5 731.4h6v3h-6zM309.5 851.4h6v3h-6zM348.5 668.4h6v3h-6zM360.5 605.4h6v3h-6zM315.5 827.4h6v3h-6zM327.5 764.4h6v3h-6zM321.5 803.4h6v3h-6zM348.5 665.4h6v3h-6zM324.5 779.4h6v3h-6zM309.5 863.4h6v3h-6zM440.4 719.8h6v3h-6zM416.4 605.8h6v3h-6zM467.4 845.8h6v3h-6zM410.4 581.8h6v3h-6zM419.4 629.8h6v3h-6zM395.4 515.8h6v3h-6zM461.4 821.8h6v3h-6zM461.4 818.8h6v3h-6zM473.4 869.8h6v3h-6zM437.4 704.8h6v3h-6zM446.4 755.8h6v3h-6zM401.4 533.8h6v3h-6zM476.4 887.8h6v3h-6zM452.4 773.8h6v3h-6zM395.4 509.8h6v3h-6zM404.4 560.8h9v3h-9zM452.4 779.8h6v3h-6zM455.4 797.8h6v3h-6zM467.4 848.8h6v3h-6zM422.4 632.8h6v3h-6zM431.4 683.8h6v3h-6zM473.4 872.8h6v3h-6zM437.4 707.8h6v3h-6zM413.4 593.8h6v3h-6zM440.4 725.8h6v3h-6zM416.4 611.8h6v3h-6zM458.4 800.8h6v3h-6zM410.4 587.8h6v3h-6zM467.4 851.8h6v3h-6zM422.4 635.8h6v3h-6zM398.4 521.8h6v3h-6zM461.4 824.8h6v3h-6zM473.4 875.8h6v3h-6zM437.4 710.8h6v3h-6zM449.4 761.8h6v3h-6zM401.4 539.8h6v3h-6zM401.4 545.8h6v3h-6zM464.4 827.8h6v3h-6zM428.4 671.8h6v3h-6zM392.4 500.8h6v3h-6zM458.4 803.8h6v3h-6zM422.4 638.8h6v3h-6zM386.4 476.8h9v3h-9zM431.4 686.8h9v3h-9zM434.4 689.8h6v3h-6zM473.4 878.8h6v3h-6zM437.4 713.8h6v3h-6zM413.4 599.8h6v3h-6zM443.4 731.8h6v3h-6zM407.4 566.8h6v3h-6zM419.4 617.8h6v3h-6zM470.4 857.8h6v3h-6zM470.4 854.8h6v3h-6zM422.4 641.8h6v3h-6zM398.4 527.8h6v3h-6zM464.4 830.8h6v3h-6zM473.4 881.8h6v3h-6zM440.4 716.8h6v3h-6zM449.4 767.8h6v3h-6zM449.4 764.8h6v3h-6zM425.4 650.8h6v3h-6zM455.4 785.8h6v3h-6zM464.4 833.8h6v3h-6zM458.4 809.8h6v3h-6zM422.4 644.8h9v3h-9zM434.4 695.8h6v3h-6zM434.4 692.8h6v3h-6zM410.4 578.8h6v3h-6zM413.4 602.8h9v3h-9zM443.4 737.8h6v3h-6zM419.4 623.8h6v3h-6zM419.4 620.8h6v3h-6zM395.4 506.8h6v3h-6zM404.4 557.8h6v3h-6zM470.4 860.8h6v3h-6zM470.4 863.8h6v3h-6zM446.4 746.8h6v3h-6zM389.4 482.8h6v3h-6zM398.4 530.8h6v3h-6zM440.4 722.8h6v3h-6zM404.4 551.8h6v3h-6zM449.4 770.8h9v3h-9zM425.4 656.8h6v3h-6zM389.4 485.8h6v3h-6zM455.4 788.8h6v3h-6zM464.4 839.8h6v3h-6zM431.4 674.8h6v3h-6zM434.4 698.8h6v3h-6zM446.4 749.8h6v3h-6zM410.4 584.8h6v3h-6zM416.4 608.8h6v3h-6zM467.4 842.8h6v3h-6zM419.4 626.8h6v3h-6zM431.4 677.8h6v3h-6zM395.4 512.8h6v3h-6zM407.4 563.8h6v3h-6zM470.4 866.8h6v3h-6zM437.4 701.8h6v3h-6zM446.4 752.8h6v3h-6zM401.4 536.8h6v3h-6zM452.4 776.8h6v3h-6zM428.4 662.8h6v3h-6zM392.4 491.8h6v3h-6zM455.4 794.8h6v3h-6zM431.4 680.8h6v3h-6zM440.4 728.8h9v3h-9zM413.4 590.8h6v3h-6zM416.4 614.8h6v3h-6zM395.4 518.8h9v3h-9zM407.4 569.8h6v3h-6zM449.4 758.8h6v3h-6zM458.4 806.8h6v3h-6zM401.4 542.8h6v3h-6zM452.4 782.8h6v3h-6zM428.4 668.8h6v3h-6zM392.4 497.8h6v3h-6zM392.4 494.8h6v3h-6zM443.4 734.8h6v3h-6zM413.4 596.8h6v3h-6zM476.4 884.8h6v3h-6zM404.4 548.8h6v3h-6zM398.4 524.8h6v3h-6zM407.4 572.8h6v3h-6zM461.4 812.8h6v3h-6zM425.4 647.8h6v3h-6zM464.4 836.8h6v3h-6zM392.4 503.8h6v3h-6zM443.4 740.8h6v3h-6zM410.4 575.8h6v3h-6zM455.4 791.8h6v3h-6zM476.4 890.8h6v3h-6zM404.4 554.8h6v3h-6zM446.4 743.8h6v3h-6zM425.4 653.8h6v3h-6zM461.4 815.8h6v3h-6zM389.4 488.8h6v3h-6zM428.4 659.8h6v3h-6zM428.4 665.8h6v3h-6zM389.4 479.8h6v3h-6zM529.2 837.1h9v3h-9zM550.2 816.1h9v3h-9zM502.2 864.1h9v3h-9zM526.2 840.1h9v3h-9zM496.2 870.1h9v3h-9zM511.2 855.1h9v3h-9zM520.2 846.1h9v3h-9zM505.2 861.1h9v3h-9zM499.2 867.1h9v3h-9zM508.2 858.1h9v3h-9zM565.2 801.1h9v3h-9zM478.2 888.1h9v3h-9zM490.2 876.1h9v3h-9zM493.2 873.1h9v3h-9zM514.2 852.1h9v3h-9zM559.2 807.1h9v3h-9zM475.2 891.1h9v3h-9zM487.2 879.1h9v3h-9zM568.2 798.1h9v3h-9zM484.2 882.1h9v3h-9zM553.2 813.1h9v3h-9zM523.2 843.1h9v3h-9zM535.2 831.1h9v3h-9zM538.2 828.1h9v3h-9zM547.2 819.1h9v3h-9zM532.2 834.1h9v3h-9zM517.2 849.1h9v3h-9zM541.2 825.1h9v3h-9zM481.2 885.1h9v3h-9zM562.2 804.1h9v3h-9zM544.2 822.1h9v3h-9zM556.2 810.1h9v3h-9zM603.1 783.9h15v3h-15zM654.1 762.9h12v3h-12zM579.1 792.9h15v3h-15zM570.1 795.9h18v3h-18zM648.1 765.9h15v3h-15zM609.1 780.9h18v3h-18zM585.1 789.9h18v3h-18zM594.1 786.9h18v3h-18zM639.1 768.9h18v3h-18zM570.1 798.9h9v3h-9zM624.1 774.9h18v3h-18zM633.1 771.9h15v3h-15zM618.1 777.9h15v3h-15zM570.1 801.9h3v3h-3zM663.1 759.9h3v3h-3zM703.8 747.6h24v3h-24zM736.8 738.6h18v3h-18zM661.8 759.6h24v3h-24zM745.8 735.6h9v3h-9zM673.8 756.6h21v3h-21zM682.8 753.6h24v3h-24zM715.8 744.6h21v3h-21zM694.8 750.6h21v3h-21zM724.8 741.6h24v3h-24zM661.8 762.6h12v3h-12zM661.8 765.6h3v3h-3zM834.8 778.9h12v3h-12zM807.8 766.9h15v3h-15zM813.8 769.9h15v3h-15zM762.8 745.9h15v3h-15zM750.8 739.9h15v3h-15zM789.8 757.9h15v3h-15zM801.8 763.9h15v3h-15zM828.8 775.9h12v3h-12zM777.8 751.9h12v3h-12zM756.8 742.9h15v3h-15zM750.8 736.9h9v3h-9zM840.8 781.9h6v3h-6zM771.8 748.9h12v3h-12zM795.8 760.9h15v3h-15zM819.8 772.9h15v3h-15zM783.8 754.9h12v3h-12zM750.8 733.9h3v3h-3zM869.5 793.1h15v3h-15zM902.5 805.1h15v3h-15zM842.5 784.1h18v3h-18zM884.5 799.1h18v3h-18zM860.5 790.1h18v3h-18zM917.5 811.1h18v3h-18zM875.5 796.1h18v3h-18zM842.5 781.1h9v3h-9zM851.5 787.1h18v3h-18zM893.5 802.1h18v3h-18zM908.5 808.1h18v3h-18zM926.5 814.1h9v3h-9zM842.5 778.1h3v3h-3zM1018.1 744.9h9v3h-9zM1009.1 750.9h12v3h-12zM979.1 774.9h9v3h-9zM955.1 792.9h9v3h-9zM958.1 789.9h12v3h-12zM931.1 810.9h9v3h-9zM1021.1 741.9h6v3h-6zM970.1 780.9h12v3h-12zM988.1 768.9h9v3h-9zM991.1 765.9h9v3h-9zM946.1 798.9h12v3h-12zM952.1 795.9h9v3h-9zM967.1 783.9h9v3h-9zM982.1 771.9h12v3h-12zM943.1 801.9h9v3h-9zM964.1 786.9h9v3h-9zM1003.1 756.9h9v3h-9zM931.1 813.9h6v3h-6zM994.1 762.9h12v3h-12zM1000.1 759.9h9v3h-9zM1015.1 747.9h9v3h-9zM976.1 777.9h9v3h-9zM934.1 807.9h12v3h-12zM1006.1 753.9h9v3h-9zM940.1 804.9h9v3h-9zM931.1 816.9h3v3h-3zM1065 728.2h21v3h-21zM1095 719.2h21v3h-21zM1023 740.2h21v3h-21zM1107 716.2h12v3h-12zM1074 725.2h24v3h-24zM1035 737.2h21v3h-21zM1044 734.2h21v3h-21zM1056 731.2h21v3h-21zM1086 722.2h21v3h-21zM1023 743.2h12v3h-12zM1023 746.2h3v3h-3zM1116 713.2h3v3h-3zM1168.9 731h24v3h-24zM1114.9 716h15v3h-15zM1153.9 728h27v3h-27zM1114.9 719h27v3h-27zM1129.9 722h24v3h-24zM1141.9 725h27v3h-27zM1192.9 737h15v3h-15zM1180.9 734h27v3h-27zM1114.9 713h3v3h-3zM1204.9 740h3v3h-3zM1254.7 527h6v3h-6zM1257.7 518h6v3h-6zM1224.7 650h6v3h-6zM1287.7 389h6v3h-6zM1290.7 380h6v3h-6zM1206.7 719h6v3h-6zM1203.7 725h9v3h-9zM1206.7 716h6v3h-6zM1269.7 458h9v3h-9zM1272.7 455h6v3h-6zM1260.7 494h9v3h-9zM1263.7 491h6v3h-6zM1230.7 623h6v3h-6zM1233.7 614h6v3h-6zM1242.7 569h6v3h-6zM1245.7 560h6v3h-6zM1212.7 692h6v3h-6zM1212.7 689h6v3h-6zM1278.7 422h6v3h-6zM1230.7 626h6v3h-6zM1278.7 428h6v3h-6zM1260.7 497h6v3h-6zM1251.7 533h6v3h-6zM1287.7 395h6v3h-6zM1236.7 599h6v3h-6zM1203.7 731h6v3h-6zM1203.7 734h6v3h-6zM1206.7 722h6v3h-6zM1218.7 668h6v3h-6zM1266.7 470h9v3h-9zM1260.7 500h6v3h-6zM1269.7 464h6v3h-6zM1236.7 593h6v3h-6zM1269.7 461h6v3h-6zM1227.7 629h6v3h-6zM1242.7 575h6v3h-6zM1245.7 566h6v3h-6zM1233.7 605h6v3h-6zM1212.7 695h6v3h-6zM1200.7 737h9v3h-9zM1224.7 641h6v3h-6zM1275.7 437h6v3h-6zM1275.7 434h6v3h-6zM1260.7 503h6v3h-6zM1251.7 539h6v3h-6zM1293.7 365h6v3h-6zM1284.7 401h6v3h-6zM1209.7 701h6v3h-6zM1218.7 674h6v3h-6zM1266.7 476h6v3h-6zM1269.7 467h6v3h-6zM1257.7 506h9v3h-9zM1248.7 545h6v3h-6zM1251.7 542h6v3h-6zM1239.7 581h6v3h-6zM1233.7 611h6v3h-6zM1275.7 443h6v3h-6zM1224.7 647h6v3h-6zM1275.7 440h6v3h-6zM1257.7 509h6v3h-6zM1239.7 584h6v3h-6zM1293.7 371h6v3h-6zM1209.7 707h6v3h-6zM1221.7 653h6v3h-6zM1272.7 446h6v3h-6zM1263.7 485h6v3h-6zM1263.7 482h9v3h-9zM1281.7 419h6v3h-6zM1257.7 512h6v3h-6zM1248.7 551h6v3h-6zM1248.7 548h6v3h-6zM1239.7 587h6v3h-6zM1215.7 680h6v3h-6zM1230.7 617h6v3h-6zM1287.7 392h6v3h-6zM1215.7 683h6v3h-6zM1254.7 524h6v3h-6zM1257.7 515h6v3h-6zM1287.7 386h6v3h-6zM1239.7 590h6v3h-6zM1206.7 713h9v3h-9zM1221.7 659h6v3h-6zM1272.7 452h6v3h-6zM1221.7 656h6v3h-6zM1284.7 398h6v3h-6zM1263.7 488h6v3h-6zM1245.7 557h6v3h-6zM1248.7 554h6v3h-6zM1215.7 686h6v3h-6zM1227.7 632h6v3h-6zM1278.7 425h6v3h-6zM1212.7 698h6v3h-6zM1254.7 530h6v3h-6zM1236.7 596h6v3h-6zM1203.7 728h6v3h-6zM1218.7 665h6v3h-6zM1221.7 662h6v3h-6zM1284.7 404h6v3h-6zM1242.7 572h6v3h-6zM1245.7 563h6v3h-6zM1227.7 638h6v3h-6zM1278.7 431h6v3h-6zM1227.7 635h6v3h-6zM1290.7 377h6v3h-6zM1293.7 368h6v3h-6zM1209.7 704h6v3h-6zM1251.7 536h6v3h-6zM1236.7 602h6v3h-6zM1218.7 671h6v3h-6zM1266.7 473h6v3h-6zM1281.7 410h6v3h-6zM1284.7 407h6v3h-6zM1242.7 578h6v3h-6zM1233.7 608h6v3h-6zM1224.7 644h6v3h-6zM1290.7 383h6v3h-6zM1281.7 413h6v3h-6zM1209.7 710h6v3h-6zM1272.7 449h6v3h-6zM1266.7 479h6v3h-6zM1281.7 416h6v3h-6zM1230.7 620h6v3h-6zM1254.7 521h6v3h-6zM1290.7 374h6v3h-6zM1215.7 677h6v3h-6zM1349.6 606.7h6v3h-6zM1322.6 492.7h6v3h-6zM1367.6 681.7h6v3h-6zM1316.6 468.7h6v3h-6zM1376.6 729.7h6v3h-6zM1328.6 516.7h6v3h-6zM1352.6 615.7h6v3h-6zM1301.6 402.7h6v3h-6zM1376.6 732.7h6v3h-6zM1370.6 705.7h6v3h-6zM1382.6 747.7h6v3h-6zM1346.6 591.7h6v3h-6zM1307.6 420.7h6v3h-6zM1349.6 609.7h6v3h-6zM1301.6 396.7h6v3h-6zM1361.6 657.7h6v3h-6zM1361.6 660.7h6v3h-6zM1328.6 519.7h6v3h-6zM1340.6 570.7h6v3h-6zM1319.6 480.7h6v3h-6zM1349.6 612.7h6v3h-6zM1373.6 711.7h6v3h-6zM1313.6 447.7h6v3h-6zM1325.6 498.7h6v3h-6zM1322.6 495.7h9v3h-9zM1367.6 687.7h6v3h-6zM1367.6 684.7h6v3h-6zM1379.6 735.7h6v3h-6zM1352.6 621.7h6v3h-6zM1304.6 408.7h6v3h-6zM1382.6 753.7h6v3h-6zM1346.6 597.7h6v3h-6zM1307.6 426.7h6v3h-6zM1361.6 666.7h6v3h-6zM1361.6 663.7h6v3h-6zM1373.6 714.7h6v3h-6zM1337.6 549.7h6v3h-6zM1298.6 387.7h6v3h-6zM1379.6 738.7h6v3h-6zM1331.6 525.7h6v3h-6zM1292.6 363.7h9v3h-9zM1340.6 573.7h6v3h-6zM1316.6 459.7h6v3h-6zM1373.6 717.7h6v3h-6zM1313.6 453.7h6v3h-6zM1325.6 504.7h6v3h-6zM1325.6 501.7h6v3h-6zM1367.6 690.7h6v3h-6zM1379.6 741.7h6v3h-6zM1343.6 576.7h6v3h-6zM1304.6 414.7h6v3h-6zM1352.6 627.7h9v3h-9zM1358.6 645.7h6v3h-6zM1310.6 432.7h6v3h-6zM1358.6 651.7h6v3h-6zM1334.6 537.7h6v3h-6zM1364.6 669.7h6v3h-6zM1337.6 555.7h6v3h-6zM1379.6 744.7h6v3h-6zM1331.6 531.7h6v3h-6zM1343.6 579.7h6v3h-6zM1316.6 465.7h6v3h-6zM1322.6 483.7h6v3h-6zM1322.6 489.7h6v3h-6zM1376.6 723.7h6v3h-6zM1376.6 720.7h6v3h-6zM1325.6 507.7h6v3h-6zM1337.6 558.7h6v3h-6zM1301.6 393.7h6v3h-6zM1313.6 444.7h6v3h-6zM1370.6 696.7h6v3h-6zM1343.6 582.7h6v3h-6zM1295.6 369.7h6v3h-6zM1355.6 630.7h6v3h-6zM1307.6 417.7h6v3h-6zM1355.6 633.7h6v3h-6zM1310.6 438.7h6v3h-6zM1370.6 699.7h6v3h-6zM1334.6 543.7h6v3h-6zM1295.6 372.7h6v3h-6zM1364.6 675.7h6v3h-6zM1328.6 510.7h6v3h-6zM1337.6 561.7h9v3h-9zM1343.6 585.7h6v3h-6zM1319.6 471.7h6v3h-6zM1349.6 603.7h6v3h-6zM1376.6 726.7h6v3h-6zM1328.6 513.7h6v3h-6zM1301.6 399.7h6v3h-6zM1313.6 450.7h6v3h-6zM1346.6 588.7h6v3h-6zM1355.6 639.7h6v3h-6zM1307.6 423.7h6v3h-6zM1331.6 522.7h6v3h-6zM1355.6 636.7h6v3h-6zM1361.6 654.7h6v3h-6zM1298.6 378.7h6v3h-6zM1340.6 567.7h6v3h-6zM1340.6 564.7h6v3h-6zM1319.6 477.7h6v3h-6zM1319.6 474.7h6v3h-6zM1373.6 708.7h6v3h-6zM1307.6 429.7h9v3h-9zM1352.6 618.7h6v3h-6zM1304.6 405.7h6v3h-6zM1358.6 642.7h6v3h-6zM1331.6 528.7h6v3h-6zM1367.6 693.7h9v3h-9zM1298.6 384.7h6v3h-6zM1298.6 381.7h6v3h-6zM1316.6 456.7h6v3h-6zM1310.6 435.7h6v3h-6zM1352.6 624.7h6v3h-6zM1304.6 411.7h6v3h-6zM1364.6 672.7h6v3h-6zM1358.6 648.7h6v3h-6zM1331.6 534.7h6v3h-6zM1337.6 552.7h6v3h-6zM1316.6 462.7h6v3h-6zM1382.6 750.7h6v3h-6zM1322.6 486.7h6v3h-6zM1301.6 390.7h6v3h-6zM1310.6 441.7h6v3h-6zM1364.6 678.7h6v3h-6zM1334.6 540.7h6v3h-6zM1370.6 702.7h6v3h-6zM1295.6 375.7h6v3h-6zM1382.6 756.7h6v3h-6zM1334.6 546.7h6v3h-6zM1346.6 594.7h6v3h-6zM1346.6 600.7h6v3h-6zM1295.6 366.7h6v3h-6zM1414.9 667.8h6v3h-6zM1435.9 601.8h6v3h-6zM1387.9 739.8h9v3h-9zM1438.9 592.8h6v3h-6zM1390.9 736.8h6v3h-6zM1426.9 631.8h6v3h-6zM1471.9 496.8h6v3h-6zM1399.9 709.8h6v3h-6zM1411.9 670.8h6v3h-6zM1447.9 565.8h6v3h-6zM1450.9 556.8h6v3h-6zM1438.9 595.8h6v3h-6zM1420.9 643.8h9v3h-9zM1423.9 634.8h9v3h-9zM1459.9 529.8h9v3h-9zM1408.9 682.8h6v3h-6zM1411.9 673.8h6v3h-6zM1462.9 523.8h6v3h-6zM1474.9 490.8h6v3h-6zM1435.9 607.8h6v3h-6zM1438.9 598.8h6v3h-6zM1384.9 751.8h6v3h-6zM1384.9 754.8h6v3h-6zM1387.9 742.8h6v3h-6zM1420.9 646.8h6v3h-6zM1423.9 637.8h6v3h-6zM1459.9 532.8h6v3h-6zM1471.9 502.8h6v3h-6zM1474.9 493.8h6v3h-6zM1447.9 571.8h6v3h-6zM1396.9 715.8h6v3h-6zM1381.9 757.8h9v3h-9zM1432.9 610.8h6v3h-6zM1420.9 649.8h6v3h-6zM1468.9 505.8h6v3h-6zM1405.9 688.8h6v3h-6zM1459.9 535.8h6v3h-6zM1432.9 613.8h6v3h-6zM1468.9 508.8h6v3h-6zM1384.9 748.8h9v3h-9zM1417.9 652.8h9v3h-9zM1453.9 547.8h9v3h-9zM1456.9 538.8h9v3h-9zM1444.9 577.8h6v3h-6zM1429.9 619.8h6v3h-6zM1396.9 721.8h6v3h-6zM1432.9 616.8h6v3h-6zM1465.9 514.8h6v3h-6zM1417.9 655.8h6v3h-6zM1468.9 511.8h6v3h-6zM1405.9 694.8h6v3h-6zM1441.9 589.8h6v3h-6zM1417.9 658.8h6v3h-6zM1402.9 700.8h6v3h-6zM1453.9 553.8h6v3h-6zM1402.9 697.8h6v3h-6zM1393.9 727.8h6v3h-6zM1429.9 622.8h6v3h-6zM1414.9 664.8h6v3h-6zM1450.9 559.8h6v3h-6zM1414.9 661.8h9v3h-9zM1462.9 520.8h9v3h-9zM1465.9 517.8h6v3h-6zM1390.9 733.8h6v3h-6zM1426.9 628.8h6v3h-6zM1399.9 706.8h6v3h-6zM1402.9 703.8h6v3h-6zM1387.9 745.8h6v3h-6zM1462.9 526.8h6v3h-6zM1408.9 679.8h6v3h-6zM1411.9 676.8h6v3h-6zM1444.9 574.8h6v3h-6zM1450.9 562.8h6v3h-6zM1471.9 499.8h6v3h-6zM1399.9 712.8h6v3h-6zM1408.9 685.8h6v3h-6zM1393.9 724.8h6v3h-6zM1444.9 580.8h6v3h-6zM1423.9 640.8h6v3h-6zM1456.9 544.8h6v3h-6zM1441.9 583.8h6v3h-6zM1456.9 541.8h6v3h-6zM1405.9 691.8h6v3h-6zM1441.9 586.8h6v3h-6zM1393.9 730.8h6v3h-6zM1429.9 625.8h6v3h-6zM1453.9 550.8h6v3h-6zM1435.9 604.8h6v3h-6zM1447.9 568.8h6v3h-6zM1396.9 718.8h6v3h-6zM1494.3 544.9h6v3h-6zM1545.3 694.9h6v3h-6zM1485.3 517.9h6v3h-6zM1530.3 655.9h6v3h-6zM1524.3 631.9h6v3h-6zM1554.3 721.9h6v3h-6zM1509.3 592.9h6v3h-6zM1500.3 568.9h6v3h-6zM1515.3 610.9h6v3h-6zM1533.3 658.9h6v3h-6zM1548.3 706.9h6v3h-6zM1539.3 682.9h6v3h-6zM1503.3 571.9h6v3h-6zM1554.3 724.9h6v3h-6zM1494.3 550.9h6v3h-6zM1494.3 547.9h6v3h-6zM1509.3 595.9h9v3h-9zM1527.3 643.9h6v3h-6zM1479.3 508.9h9v3h-9zM1533.3 661.9h6v3h-6zM1524.3 637.9h6v3h-6zM1488.3 526.9h6v3h-6zM1479.3 502.9h6v3h-6zM1512.3 598.9h6v3h-6zM1503.3 574.9h6v3h-6zM1518.3 616.9h6v3h-6zM1533.3 664.9h6v3h-6zM1473.3 490.9h9v3h-9zM1503.3 577.9h6v3h-6zM1497.3 553.9h6v3h-6zM1512.3 601.9h6v3h-6zM1542.3 691.9h9v3h-9zM1482.3 514.9h6v3h-6zM1566.3 754.9h6v3h-6zM1488.3 532.9h6v3h-6zM1521.3 628.9h6v3h-6zM1557.3 730.9h6v3h-6zM1512.3 604.9h9v3h-9zM1500.3 565.9h6v3h-6zM1536.3 667.9h6v3h-6zM1548.3 709.9h9v3h-9zM1551.3 715.9h6v3h-6zM1506.3 583.9h6v3h-6zM1497.3 559.9h6v3h-6zM1560.3 742.9h6v3h-6zM1485.3 520.9h6v3h-6zM1476.3 496.9h6v3h-6zM1491.3 538.9h6v3h-6zM1560.3 736.9h6v3h-6zM1476.3 499.9h9v3h-9zM1530.3 649.9h6v3h-6zM1545.3 697.9h6v3h-6zM1536.3 673.9h6v3h-6zM1506.3 586.9h9v3h-9zM1524.3 634.9h6v3h-6zM1539.3 676.9h6v3h-6zM1530.3 652.9h6v3h-6zM1545.3 700.9h9v3h-9zM1563.3 748.9h6v3h-6zM1485.3 523.9h6v3h-6zM1515.3 613.9h9v3h-9zM1509.3 589.9h6v3h-6zM1557.3 727.9h6v3h-6zM1479.3 505.9h6v3h-6zM1548.3 703.9h6v3h-6zM1527.3 640.9h6v3h-6zM1488.3 529.9h6v3h-6zM1518.3 619.9h6v3h-6zM1557.3 733.9h6v3h-6zM1497.3 556.9h6v3h-6zM1536.3 670.9h6v3h-6zM1527.3 646.9h6v3h-6zM1491.3 535.9h6v3h-6zM1542.3 688.9h6v3h-6zM1542.3 685.9h6v3h-6zM1482.3 511.9h6v3h-6zM1515.3 607.9h6v3h-6zM1521.3 625.9h6v3h-6zM1521.3 622.9h6v3h-6zM1500.3 562.9h6v3h-6zM1551.3 712.9h6v3h-6zM1506.3 580.9h6v3h-6zM1491.3 541.9h6v3h-6zM1560.3 739.9h6v3h-6zM1566.3 757.9h6v3h-6zM1551.3 718.9h9v3h-9zM1539.3 679.9h6v3h-6zM1563.3 745.9h6v3h-6zM1563.3 751.9h6v3h-6zM1476.3 493.9h6v3h-6zM1615.8 721.8h12v3h-12zM1654.8 694.8h6v3h-6zM1573.8 751.8h9v3h-9zM1567.8 754.8h12v3h-12zM1576.8 748.8h12v3h-12zM1594.8 736.8h9v3h-9zM1636.8 706.8h12v3h-12zM1588.8 739.8h12v3h-12zM1606.8 727.8h12v3h-12zM1633.8 709.8h9v3h-9zM1645.8 700.8h12v3h-12zM1651.8 697.8h9v3h-9zM1612.8 724.8h9v3h-9zM1567.8 757.8h6v3h-6zM1627.8 712.8h12v3h-12zM1585.8 742.8h9v3h-9zM1624.8 715.8h9v3h-9zM1582.8 745.8h9v3h-9zM1642.8 703.8h9v3h-9zM1603.8 730.8h9v3h-9zM1657.8 691.8h3v3h-3zM1618.8 718.8h12v3h-12zM1597.8 733.8h12v3h-12zM1567.8 760.8h3v3h-3zM1678 746.3h6v3h-6zM1669 722.3h6v3h-6zM1735 872.3h9v3h-9zM1726 848.3h6v3h-6zM1744 887.3h6v3h-6zM1669 725.3h6v3h-6zM1690 770.3h6v3h-6zM1657 701.3h9v3h-9zM1681 749.3h6v3h-6zM1699 788.3h6v3h-6zM1717 833.3h9v3h-9zM1687 764.3h6v3h-6zM1726 851.3h6v3h-6zM1669 728.3h9v3h-9zM1690 773.3h9v3h-9zM1699 791.3h6v3h-6zM1738 878.3h9v3h-9zM1738 875.3h6v3h-6zM1663 713.3h6v3h-6zM1705 806.3h9v3h-9zM1747 893.3h6v3h-6zM1672 731.3h6v3h-6zM1693 776.3h6v3h-6zM1660 707.3h6v3h-6zM1681 752.3h6v3h-6zM1720 839.3h9v3h-9zM1684 755.3h6v3h-6zM1654 695.3h9v3h-9zM1672 734.3h9v3h-9zM1693 779.3h6v3h-6zM1711 818.3h6v3h-6zM1702 794.3h6v3h-6zM1741 881.3h6v3h-6zM1666 719.3h6v3h-6zM1729 857.3h6v3h-6zM1714 821.3h6v3h-6zM1684 758.3h6v3h-6zM1732 860.3h6v3h-6zM1741 884.3h6v3h-6zM1684 761.3h9v3h-9zM1675 737.3h6v3h-6zM1696 785.3h6v3h-6zM1714 824.3h6v3h-6zM1702 800.3h9v3h-9zM1717 827.3h6v3h-6zM1735 866.3h6v3h-6zM1660 704.3h6v3h-6zM1723 842.3h6v3h-6zM1687 767.3h9v3h-9zM1708 812.3h6v3h-6zM1678 743.3h6v3h-6zM1735 869.3h6v3h-6zM1729 854.3h6v3h-6zM1717 830.3h6v3h-6zM1663 710.3h6v3h-6zM1702 797.3h6v3h-6zM1720 836.3h6v3h-6zM1711 815.3h6v3h-6zM1675 740.3h6v3h-6zM1666 716.3h6v3h-6zM1732 863.3h6v3h-6zM1705 803.3h6v3h-6zM1723 845.3h9v3h-9zM1744 890.3h6v3h-6zM1708 809.3h6v3h-6zM1696 782.3h6v3h-6zM1657 698.3h6v3h-6zM1792.8 791.9h6v3h-6zM1771.8 839.9h6v3h-6zM1774.8 830.9h6v3h-6zM1795.8 788.9h6v3h-6zM1798.8 779.9h6v3h-6zM1828.8 713.9h6v3h-6zM1807.8 761.9h6v3h-6zM1810.8 752.9h6v3h-6zM1831.8 710.9h6v3h-6zM1834.8 701.9h6v3h-6zM1756.8 872.9h6v3h-6zM1786.8 806.9h6v3h-6zM1789.8 797.9h6v3h-6zM1768.8 845.9h6v3h-6zM1792.8 794.9h6v3h-6zM1825.8 719.9h6v3h-6zM1804.8 767.9h6v3h-6zM1828.8 716.9h6v3h-6zM1747.8 887.9h9v3h-9zM1747.8 890.9h6v3h-6zM1753.8 878.9h6v3h-6zM1783.8 809.9h9v3h-9zM1765.8 851.9h6v3h-6zM1789.8 800.9h6v3h-6zM1819.8 731.9h6v3h-6zM1825.8 722.9h6v3h-6zM1744.8 893.9h9v3h-9zM1783.8 812.9h6v3h-6zM1750.8 884.9h6v3h-6zM1780.8 815.9h9v3h-9zM1762.8 857.9h6v3h-6zM1762.8 854.9h9v3h-9zM1834.8 698.9h9v3h-9zM1816.8 737.9h9v3h-9zM1822.8 728.9h6v3h-6zM1819.8 734.9h6v3h-6zM1777.8 821.9h9v3h-9zM1801.8 770.9h9v3h-9zM1780.8 818.9h6v3h-6zM1759.8 860.9h9v3h-9zM1813.8 743.9h9v3h-9zM1816.8 740.9h6v3h-6zM1759.8 863.9h6v3h-6zM1771.8 836.9h6v3h-6zM1777.8 827.9h6v3h-6zM1774.8 833.9h6v3h-6zM1753.8 875.9h6v3h-6zM1759.8 866.9h6v3h-6zM1777.8 824.9h6v3h-6zM1795.8 785.9h6v3h-6zM1807.8 758.9h6v3h-6zM1810.8 755.9h6v3h-6zM1813.8 749.9h6v3h-6zM1813.8 746.9h6v3h-6zM1831.8 707.9h6v3h-6zM1750.8 881.9h6v3h-6zM1768.8 842.9h6v3h-6zM1804.8 764.9h6v3h-6zM1765.8 848.9h9v3h-9zM1798.8 776.9h9v3h-9zM1822.8 725.9h6v3h-6zM1795.8 782.9h9v3h-9zM1801.8 773.9h6v3h-6zM1831.8 704.9h9v3h-9zM1756.8 869.9h6v3h-6zM1786.8 803.9h6v3h-6zM1909.7 761.7h9v3h-9zM1879.7 737.7h9v3h-9zM1861.7 722.7h9v3h-9zM1840.7 704.7h9v3h-9zM1882.7 740.7h12v3h-12zM1915.7 767.7h9v3h-9zM1843.7 707.7h12v3h-12zM1900.7 755.7h9v3h-9zM1837.7 695.7h3v3h-3zM1870.7 728.7h9v3h-9zM1849.7 710.7h9v3h-9zM1852.7 713.7h9v3h-9zM1906.7 758.7h9v3h-9zM1837.7 698.7h6v3h-6zM1867.7 725.7h9v3h-9zM1876.7 734.7h9v3h-9zM1855.7 716.7h9v3h-9zM1894.7 749.7h9v3h-9zM1912.7 764.7h9v3h-9zM1858.7 719.7h9v3h-9zM1891.7 746.7h9v3h-9zM1897.7 752.7h9v3h-9zM1918.7 770.7h9v3h-9zM1921.7 773.7h9v3h-9zM1888.7 743.7h9v3h-9zM1873.7 731.7h9v3h-9zM1837.7 701.7h9v3h-9zM1927.7 776.7h3v3h-3zM2012.5 706h9v3h-9zM1988.5 724h12v3h-12zM2003.5 712h12v3h-12zM2018.5 700h6v3h-6zM1973.5 736h12v3h-12zM1985.5 727h9v3h-9zM2000.5 715h9v3h-9zM1952.5 754h9v3h-9zM1955.5 751h9v3h-9zM1928.5 772h9v3h-9zM2015.5 703h9v3h-9zM1967.5 742h9v3h-9zM1982.5 730h9v3h-9zM1994.5 721h9v3h-9zM1997.5 718h9v3h-9zM1943.5 760h9v3h-9zM1946.5 757h12v3h-12zM1964.5 745h9v3h-9zM1979.5 733h9v3h-9zM1940.5 763h9v3h-9zM1958.5 748h9v3h-9zM1928.5 775h6v3h-6zM2009.5 709h9v3h-9zM1970.5 739h9v3h-9zM1931.5 769h12v3h-12zM1937.5 766h9v3h-9zM1928.5 778h3v3h-3z"/>
<path fill="#ff0000" d="M288.5 908.4h21v3h-21zM282.5 914.4h6v3h-6zM309.5 914.4h6v3h-6zM285.5 935.4h6v3h-6zM306.5 935.4h6v3h-6zM282.5 932.4h6v3h-6zM309.5 932.4h6v3h-6zM279.5 923.4h6v3h-6zM312.5 923.4h6v3h-6zM282.5 917.4h3v3h-3zM312.5 917.4h3v3h-3zM282.5 920.4h3v3h-3zM312.5 920.4h3v3h-3zM282.5 926.4h3v3h-3zM312.5 926.4h3v3h-3zM288.5 938.4h21v3h-21zM285.5 911.4h6v3h-6zM306.5 911.4h6v3h-6zM282.5 929.4h3v3h-3zM312.5 929.4h3v3h-3zM297.5 905.4h3v3h-3zM297.5 941.4h3v3h-3zM380.4 461.8h21v3h-21zM374.4 467.8h6v3h-6zM401.4 467.8h6v3h-6zM377.4 488.8h6v3h-6zM398.4 488.8h6v3h-6zM374.4 485.8h6v3h-6zM401.4 485.8h6v3h-6zM371.4 476.8h6v3h-6zM404.4 476.8h6v3h-6zM374.4 470.8h3v3h-3zM404.4 470.8h3v3h-3zM374.4 473.8h3v3h-3zM404.4 473.8h3v3h-3zM374.4 479.8h3v3h-3zM404.4 479.8h3v3h-3zM380.4 491.8h21v3h-21zM377.4 464.8h6v3h-6zM398.4 464.8h6v3h-6zM374.4 482.8h3v3h-3zM404.4 482.8h3v3h-3zM389.4 458.8h3v3h-3zM389.4 494.8h3v3h-3zM469.2 876.1h21v3h-21zM463.2 882.1h6v3h-6zM490.2 882.1h6v3h-6zM466.2 903.1h6v3h-6zM487.2 903.1h6v3h-6zM463.2 900.1h6v3h-6zM490.2 900.1h6v3h-6zM460.2 891.1h6v3h-6zM493.2 891.1h6v3h-6zM463.2 885.1h3v3h-3zM493.2 885.1h3v3h-3zM463.2 888.1h3v3h-3zM493.2 888.1h3v3h-3zM463.2 894.1h3v3h-3zM493.2 894.1h3v3h-3zM469.2 906.1h21v3h-21zM466.2 879.1h6v3h-6zM487.2 879.1h6v3h-6zM463.2 897.1h3v3h-3zM493.2 897.1h3v3h-3zM478.2 873.1h3v3h-3zM478.2 909.1h3v3h-3zM561.1 783.9h21v3h-21zM555.1 789.9h6v3h-6zM582.1 789.9h6v3h-6zM558.1 810.9h6v3h-6zM579.1 810.9h6v3h-6zM555.1 807.9h6v3h-6zM582.1 807.9h6v3h-6zM552.1 798.9h6v3h-6zM585.1 798.9h6v3h-6zM555.1 792.9h3v3h-3zM585.1 792.9h3v3h-3zM555.1 795.9h3v3h-3zM585.1 795.9h3v3h-3zM555.1 801.9h3v3h-3zM585.1 801.9h3v3h-3zM561.1 813.9h21v3h-21zM558.1 786.9h6v3h-6zM579.1 786.9h6v3h-6zM555.1 804.9h3v3h-3zM585.1 804.9h3v3h-3zM570.1 780.9h3v3h-3zM570.1 816.9h3v3h-3zM652.8 747.6h21v3h-21zM646.8 753.6h6v3h-6zM673.8 753.6h6v3h-6zM649.8 774.6h6v3h-6zM670.8 774.6h6v3h-6zM646.8 771.6h6v3h-6zM673.8 771.6h6v3h-6zM643.8 762.6h6v3h-6zM676.8 762.6h6v3h-6zM646.8 756.6h3v3h-3zM676.8 756.6h3v3h-3zM646.8 759.6h3v3h-3zM676.8 759.6h3v3h-3zM646.8 765.6h3v3h-3zM676.8 765.6h3v3h-3zM652.8 777.6h21v3h-21zM649.8 750.6h6v3h-6zM670.8 750.6h6v3h-6zM646.8 768.6h3v3h-3zM676.8 768.6h3v3h-3zM661.8 744.6h3v3h-3zM661.8 780.6h3v3h-3zM741.8 721.9h21v3h-21zM735.8 727.9h6v3h-6zM762.8 727.9h6v3h-6zM738.8 748.9h6v3h-6zM759.8 748.9h6v3h-6zM735.8 745.9h6v3h-6zM762.8 745.9h6v3h-6zM732.8 736.9h6v3h-6zM765.8 736.9h6v3h-6zM735.8 730.9h3v3h-3zM765.8 730.9h3v3h-3zM735.8 733.9h3v3h-3zM765.8 733.9h3v3h-3zM735.8 739.9h3v3h-3zM765.8 739.9h3v3h-3zM741.8 751.9h21v3h-21zM738.8 724.9h6v3h-6zM759.8 724.9h6v3h-6zM735.8 742.9h3v3h-3zM765.8 742.9h3v3h-3zM750.8 718.9h3v3h-3zM750.8 754.9h3v3h-3zM833.5 766.1h21v3h-21zM827.5 772.1h6v3h-6zM854.5 772.1h6v3h-6zM830.5 793.1h6v3h-6zM851.5 793.1h6v3h-6zM827.5 790.1h6v3h-6zM854.5 790.1h6v3h-6zM824.5 781.1h6v3h-6zM857.5 781.1h6v3h-6zM827.5 775.1h3v3h-3zM857.5 775.1h3v3h-3zM827.5 778.1h3v3h-3zM857.5 778.1h3v3h-3zM827.5 784.1h3v3h-3zM857.5 784.1h3v3h-3zM833.5 796.1h21v3h-21zM830.5 769.1h6v3h-6zM851.5 769.1h6v3h-6zM827.5 787.1h3v3h-3zM857.5 787.1h3v3h-3zM842.5 763.1h3v3h-3zM842.5 799.1h3v3h-3zM922.1 798.9h21v3h-21zM916.1 804.9h6v3h-6zM943.1 804.9h6v3h-6zM919.1 825.9h6v3h-6zM940.1 825.9h6v3h-6zM916.1 822.9h6v3h-6zM943.1 822.9h6v3h-6zM913.1 813.9h6v3h-6zM946.1 813.9h6v3h-6zM916.1 807.9h3v3h-3zM946.1 807.9h3v3h-3zM916.1 810.9h3v3h-3zM946.1 810.9h3v3h-3zM916.1 816.9h3v3h-3zM946.1 816.9h3v3h-3zM922.1 828.9h21v3h-21zM919.1 801.9h6v3h-6zM940.1 801.9h6v3h-6zM916.1 819.9h3v3h-3zM946.1 819.9h3v3h-3zM931.1 795.9h3v3h-3zM931.1 831.9h3v3h-3zM1014 728.2h21v3h-21zM1008 734.2h6v3h-6zM1035 734.2h6v3h-6zM1011 755.2h6v3h-6zM1032 755.2h6v3h-6zM1008 752.2h6v3h-6zM1035 752.2h6v3h-6zM1005 743.2h6v3h-6zM1038 743.2h6v3h-6zM1008 737.2h3v3h-3zM1038 737.2h3v3h-3zM1008 740.2h3v3h-3zM1038 740.2h3v3h-3zM1008 746.2h3v3h-3zM1038 746.2h3v3h-3zM1014 758.2h21v3h-21zM1011 731.2h6v3h-6zM1032 731.2h6v3h-6zM1008 749.2h3v3h-3zM1038 749.2h3v3h-3zM1023 725.2h3v3h-3zM1023 761.2h3v3h-3zM1105.9 701h21v3h-21zM1099.9 707h6v3h-6zM1126.9 707h6v3h-6zM1102.9 728h6v3h-6zM1123.9 728h6v3h-6zM1099.9 725h6v3h-6zM1126.9 725h6v3h-6zM1096.9 716h6v3h-6zM1129.9 716h6v3h-6zM1099.9 710h3v3h-3zM1129.9 710h3v3h-3zM1099.9 713h3v3h-3zM1129.9 713h3v3h-3zM1099.9 719h3v3h-3zM1129.9 719h3v3h-3zM1105.9 731h21v3h-21zM1102.9 704h6v3h-6zM1123.9 704h6v3h-6zM1099.9 722h3v3h-3zM1129.9 722h3v3h-3zM1114.9 698h3v3h-3zM1114.9 734h3v3h-3zM1194.7 722h21v3h-21zM1188.7 728h6v3h-6zM1215.7 728h6v3h-6zM1191.7 749h6v3h-6zM1212.7 749h6v3h-6zM1188.7 746h6v3h-6zM1215.7 746h6v3h-6zM1185.7 737h6v3h-6zM1218.7 737h6v3h-6zM1188.7 731h3v3h-3zM1218.7 731h3v3h-3zM1188.7 734h3v3h-3zM1218.7 734h3v3h-3zM1188.7 740h3v3h-3zM1218.7 740h3v3h-3zM1194.7 752h21v3h-21zM1191.7 725h6v3h-6zM1212.7 725h6v3h-6zM1188.7 743h3v3h-3zM1218.7 743h3v3h-3zM1203.7 719h3v3h-3zM1203.7 755h3v3h-3zM1286.6 348.7h21v3h-21zM1280.6 354.7h6v3h-6zM1307.6 354.7h6v3h-6zM1283.6 375.7h6v3h-6zM1304.6 375.7h6v3h-6zM1280.6 372.7h6v3h-6zM1307.6 372.7h6v3h-6zM1277.6 363.7h6v3h-6zM1310.6 363.7h6v3h-6zM1280.6 357.7h3v3h-3zM1310.6 357.7h3v3h-3zM1280.6 360.7h3v3h-3zM1310.6 360.7h3v3h-3zM1280.6 366.7h3v3h-3zM1310.6 366.7h3v3h-3zM1286.6 378.7h21v3h-21zM1283.6 351.7h6v3h-6zM1304.6 351.7h6v3h-6zM1280.6 369.7h3v3h-3zM1310.6 369.7h3v3h-3zM1295.6 345.7h3v3h-3zM1295.6 381.7h3v3h-3zM1375.9 742.8h21v3h-21zM1369.9 748.8h6v3h-6zM1396.9 748.8h6v3h-6zM1372.9 769.8h6v3h-6zM1393.9 769.8h6v3h-6zM1369.9 766.8h6v3h-6zM1396.9 766.8h6v3h-6zM1366.9 757.8h6v3h-6zM1399.9 757.8h6v3h-6zM1369.9 751.8h3v3h-3zM1399.9 751.8h3v3h-3zM1369.9 754.8h3v3h-3zM1399.9 754.8h3v3h-3zM1369.9 760.8h3v3h-3zM1399.9 760.8h3v3h-3zM1375.9 772.8h21v3h-21zM1372.9 745.8h6v3h-6zM1393.9 745.8h6v3h-6zM1369.9 763.8h3v3h-3zM1399.9 763.8h3v3h-3zM1384.9 739.8h3v3h-3zM1384.9 775.8h3v3h-3zM1467.3 475.9h21v3h-21zM1461.3 481.9h6v3h-6zM1488.3 481.9h6v3h-6zM1464.3 502.9h6v3h-6zM1485.3 502.9h6v3h-6zM1461.3 499.9h6v3h-6zM1488.3 499.9h6v3h-6zM1458.3 490.9h6v3h-6zM1491.3 490.9h6v3h-6zM1461.3 484.9h3v3h-3zM1491.3 484.9h3v3h-3zM1461.3 487.9h3v3h-3zM1491.3 487.9h3v3h-3zM1461.3 493.9h3v3h-3zM1491.3 493.9h3v3h-3zM1467.3 505.9h21v3h-21zM1464.3 478.9h6v3h-6zM1485.3 478.9h6v3h-6zM1461.3 496.9h3v3h-3zM1491.3 496.9h3v3h-3zM1476.3 472.9h3v3h-3zM1476.3 508.9h3v3h-3zM1558.8 742.8h21v3h-21zM1552.8 748.8h6v3h-6zM1579.8 748.8h6v3h-6zM1555.8 769.8h6v3h-6zM1576.8 769.8h6v3h-6zM1552.8 766.8h6v3h-6zM1579.8 766.8h6v3h-6zM1549.8 757.8h6v3h-6zM1582.8 757.8h6v3h-6zM1552.8 751.8h3v3h-3zM1582.8 751.8h3v3h-3zM1552.8 754.8h3v3h-3zM1582.8 754.8h3v3h-3zM1552.8 760.8h3v3h-3zM1582.8 760.8h3v3h-3zM1558.8 772.8h21v3h-21zM1555.8 745.8h6v3h-6zM1576.8 745.8h6v3h-6zM1552.8 763.8h3v3h-3zM1582.8 763.8h3v3h-3zM1567.8 739.8h3v3h-3zM1567.8 775.8h3v3h-3zM1648 680.3h21v3h-21zM1642 686.3h6v3h-6zM1669 686.3h6v3h-6zM1645 707.3h6v3h-6zM1666 707.3h6v3h-6zM1642 704.3h6v3h-6zM1669 704.3h6v3h-6zM1639 695.3h6v3h-6zM1672 695.3h6v3h-6zM1642 689.3h3v3h-3zM1672 689.3h3v3h-3zM1642 692.3h3v3h-3zM1672 692.3h3v3h-3zM1642 698.3h3v3h-3zM1672 698.3h3v3h-3zM1648 710.3h21v3h-21zM1645 683.3h6v3h-6zM1666 683.3h6v3h-6zM1642 701.3h3v3h-3zM1672 701.3h3v3h-3zM1657 677.3h3v3h-3zM1657 713.3h3v3h-3zM1738.8 878.9h21v3h-21zM1732.8 884.9h6v3h-6zM1759.8 884.9h6v3h-6zM1735.8 905.9h6v3h-6zM1756.8 905.9h6v3h-6zM1732.8 902.9h6v3h-6zM1759.8 902.9h6v3h-6zM1729.8 893.9h6v3h-6zM1762.8 893.9h6v3h-6zM1732.8 887.9h3v3h-3zM1762.8 887.9h3v3h-3zM1732.8 890.9h3v3h-3zM1762.8 890.9h3v3h-3zM1732.8 896.9h3v3h-3zM1762.8 896.9h3v3h-3zM1738.8 908.9h21v3h-21zM1735.8 881.9h6v3h-6zM1756.8 881.9h6v3h-6zM1732.8 899.9h3v3h-3zM1762.8 899.9h3v3h-3zM1747.8 875.9h3v3h-3zM1747.8 911.9h3v3h-3zM1828.7 683.7h21v3h-21zM1822.7 689.7h6v3h-6zM1849.7 689.7h6v3h-6zM1825.7 710.7h6v3h-6zM1846.7 710.7h6v3h-6zM1822.7 707.7h6v3h-6zM1849.7 707.7h6v3h-6zM1819.7 698.7h6v3h-6zM1852.7 698.7h6v3h-6zM1822.7 692.7h3v3h-3zM1852.7 692.7h3v3h-3zM1822.7 695.7h3v3h-3zM1852.7 695.7h3v3h-3zM1822.7 701.7h3v3h-3zM1852.7 701.7h3v3h-3zM1828.7 713.7h21v3h-21zM1825.7 686.7h6v3h-6zM1846.7 686.7h6v3h-6zM1822.7 704.7h3v3h-3zM1852.7 704.7h3v3h-3zM1837.7 680.7h3v3h-3zM1837.7 716.7h3v3h-3zM1919.5 760h21v3h-21zM1913.5 766h6v3h-6zM1940.5 766h6v3h-6zM1916.5 787h6v3h-6zM1937.5 787h6v3h-6zM1913.5 784h6v3h-6zM1940.5 784h6v3h-6zM1910.5 775h6v3h-6zM1943.5 775h6v3h-6zM1913.5 769h3v3h-3zM1943.5 769h3v3h-3zM1913.5 772h3v3h-3zM1943.5 772h3v3h-3zM1913.5 778h3v3h-3zM1943.5 778h3v3h-3zM1919.5 790h21v3h-21zM1916.5 763h6v3h-6zM1937.5 763h6v3h-6zM1913.5 781h3v3h-3zM1943.5 781h3v3h-3zM1928.5 757h3v3h-3zM1928.5 793h3v3h-3zM2012.1 686.3h21v3h-21zM2006.1 692.3h6v3h-6zM2033.1 692.3h6v3h-6zM2009.1 713.3h6v3h-6zM2030.1 713.3h6v3h-6zM2006.1 710.3h6v3h-6zM2033.1 710.3h6v3h-6zM2003.1 701.3h6v3h-6zM2036.1 701.3h6v3h-6zM2006.1 695.3h3v3h-3zM2036.1 695.3h3v3h-3zM2006.1 698.3h3v3h-3zM2036.1 698.3h3v3h-3zM2006.1 704.3h3v3h-3zM2036.1 704.3h3v3h-3zM2012.1 716.3h21v3h-21zM2009.1 689.3h6v3h-6zM2030.1 689.3h6v3h-6zM2006.1 707.3h3v3h-3zM2036.1 707.3h3v3h-3zM2021.1 683.3h3v3h-3zM2021.1 719.3h3v3h-3z"/>
<rect x="210.5" y="57.5" width="1812.0" height="1267.7" fill="none" stroke="#000" stroke-width="3"/>
<path d="M435.4 1325.2V1306.0M435.4 57.5V76.7M663.5 1325.2V1288.3M663.5 57.5V94.4M888.5 1325.2V1306.0M888.5 57.5V76.7M1116.6 1325.2V1288.3M1116.6 57.5V94.4M1341.5 1325.2V1306.0M1341.5 57.5V76.7M1569.3 1325.2V1288.3M1569.3 57.5V94.4M1794.6 1325.2V1306.0M1794.6 57.5V76.7M210.5 1182.9H229.7M2022.5 1182.9H2003.3M210.5 1037.7H247.4M2022.5 1037.7H1985.6M210.5 892.6H229.7M2022.5 892.6H2003.3M210.5 747.6H247.4M2022.5 747.6H1985.6M210.5 605.4H229.7M2022.5 605.4H2003.3M210.5 460.4H247.4M2022.5 460.4H1985.6M210.5 315.3H229.7M2022.5 315.3H2003.3M210.5 173.1H247.4M2022.5 173.1H1985.6" stroke="#000" stroke-width="3" fill="none"/>
<rect x="390.9" y="110.9" width="864.6" height="290.1" fill="#fff" stroke="#000" stroke-width="3"/>
<path fill="#000000" d="M428 150.9h74v3h-74zM419 135.9h21v3h-21zM413 141.9h6v3h-6zM440 141.9h6v3h-6zM416 162.9h6v3h-6zM437 162.9h6v3h-6zM413 159.9h6v3h-6zM440 159.9h6v3h-6zM410 150.9h6v3h-6zM443 150.9h6v3h-6zM413 144.9h3v3h-3zM443 144.9h3v3h-3zM413 147.9h3v3h-3zM443 147.9h3v3h-3zM413 153.9h3v3h-3zM443 153.9h3v3h-3zM419 165.9h21v3h-21zM416 138.9h6v3h-6zM437 138.9h6v3h-6zM413 156.9h3v3h-3zM443 156.9h3v3h-3zM428 132.9h3v3h-3zM428 168.9h3v3h-3zM490 135.9h21v3h-21zM484 141.9h6v3h-6zM511 141.9h6v3h-6zM487 162.9h6v3h-6zM508 162.9h6v3h-6zM484 159.9h6v3h-6zM511 159.9h6v3h-6zM481 150.9h6v3h-6zM514 150.9h6v3h-6zM484 144.9h3v3h-3zM514 144.9h3v3h-3zM484 147.9h3v3h-3zM514 147.9h3v3h-3zM484 153.9h3v3h-3zM514 153.9h3v3h-3zM490 165.9h21v3h-21zM487 138.9h6v3h-6zM508 138.9h6v3h-6zM484 156.9h3v3h-3zM514 156.9h3v3h-3zM499 132.9h3v3h-3zM499 168.9h3v3h-3z"/>
<path fill="#0000ff" d="M428.1 210.1h73.8v2.9h-73.8zM410 194.9h36v3h-36zM410 227.9h36v3h-36zM410 197.9h3v30h-3zM443 197.9h3v30h-3zM484 194.9h33v3h-33zM484 227.9h33v3h-33zM484 197.9h3v30h-3zM514 197.9h3v30h-3z"/>
<path fill="#008b00" d="M428 272.1h74v3h-74zM410.1 272.1h39v3h-39zM419.1 263.1h3v3h-3zM428.1 263.1h3v3h-3zM434.1 263.1h3v3h-3zM428.1 251.1h3v3h-3zM416.1 260.1h3v3h-3zM428.1 260.1h3v3h-3zM437.1 260.1h3v3h-3zM419.1 278.1h3v3h-3zM428.1 278.1h3v3h-3zM434.1 278.1h3v3h-3zM428.1 287.1h3v3h-3zM422.1 266.1h3v3h-3zM428.1 266.1h6v3h-6zM425.1 269.1h6v3h-6zM422.1 275.1h3v3h-3zM428.1 275.1h6v3h-6zM416.1 281.1h3v3h-3zM428.1 281.1h3v3h-3zM437.1 281.1h3v3h-3zM413.1 257.1h3v3h-3zM428.1 257.1h3v3h-3zM440.1 257.1h3v3h-3zM413.1 284.1h3v3h-3zM428.1 284.1h3v3h-3zM440.1 284.1h3v3h-3zM428.1 254.1h3v3h-3zM428.1 290.1h3v3h-3zM481 272.1h39v3h-39zM487 257.1h3v3h-3zM499 257.1h3v3h-3zM514 257.1h3v3h-3zM490 281.1h3v3h-3zM499 281.1h3v3h-3zM511 281.1h3v3h-3zM487 284.1h3v3h-3zM499 284.1h3v3h-3zM514 284.1h3v3h-3zM499 251.1h3v3h-3zM490 260.1h3v3h-3zM499 260.1h3v3h-3zM511 260.1h3v3h-3zM493 278.1h3v3h-3zM499 278.1h3v3h-3zM508 278.1h3v3h-3zM499 287.1h3v3h-3zM496 266.1h6v3h-6zM505 266.1h3v3h-3zM496 275.1h6v3h-6zM505 275.1h3v3h-3zM493 263.1h3v3h-3zM499 263.1h3v3h-3zM508 263.1h3v3h-3zM499 269.1h6v3h-6zM499 254.1h3v3h-3zM499 290.1h3v3h-3z"/>
<path fill="#ff0000" d="M425 343.1h77v5.9h-77zM419 331.1h21v3h-21zM413 337.1h6v3h-6zM440 337.1h6v3h-6zM416 358.1h6v3h-6zM437 358.1h6v3h-6zM413 355.1h6v3h-6zM440 355.1h6v3h-6zM410 346.1h6v3h-6zM443 346.1h6v3h-6zM413 340.1h3v3h-3zM443 340.1h3v3h-3zM413 343.1h3v3h-3zM443 343.1h3v3h-3zM413 349.1h3v3h-3zM443 349.1h3v3h-3zM419 361.1h21v3h-21zM416 334.1h6v3h-6zM437 334.1h6v3h-6zM413 352.1h3v3h-3zM443 352.1h3v3h-3zM428 328.1h3v3h-3zM428 364.1h3v3h-3zM490 331.1h21v3h-21zM484 337.1h6v3h-6zM511 337.1h6v3h-6zM487 358.1h6v3h-6zM508 358.1h6v3h-6zM484 355.1h6v3h-6zM511 355.1h6v3h-6zM481 346.1h6v3h-6zM514 346.1h6v3h-6zM484 340.1h3v3h-3zM514 340.1h3v3h-3zM484 343.1h3v3h-3zM514 343.1h3v3h-3zM484 349.1h3v3h-3zM514 349.1h3v3h-3zM490 361.1h21v3h-21zM487 334.1h6v3h-6zM508 334.1h6v3h-6zM484 352.1h3v3h-3zM514 352.1h3v3h-3zM499 328.1h3v3h-3zM499 364.1h3v3h-3z"/>
<g font-family="'Liberation Serif','Times New Roman',serif" font-size="51" fill="#000"><text x="536.5" y="165.3" font-size="50.6">Spectral Preconditioner</text><text x="536" y="230.0">Generalized Tuned Preconditioner</text><text x="537" y="286.7" font-size="50.7">Fixed Cholesky Preconditioner</text><text x="537" y="354.6">log</text><text x="612.5" y="357" font-size="57">ξ</text><text x="651.6" y="373" font-style="italic" font-size="40">j</text></g>
</svg></body></html>
